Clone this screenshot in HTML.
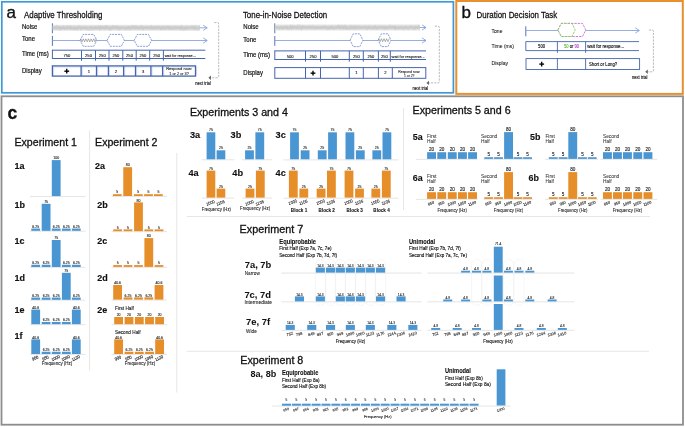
<!DOCTYPE html>
<html><head><meta charset="utf-8"><style>
html,body{margin:0;padding:0;background:#fff;width:685px;height:427px;overflow:hidden}
svg{display:block;font-family:"Liberation Sans", sans-serif;will-change:transform}
</style></head><body>
<svg xmlns="http://www.w3.org/2000/svg" width="685" height="427" viewBox="0 0 685 427" fill="#111" stroke-linecap="butt">
<rect x="1.8" y="1.8" width="451.6" height="91" fill="none" stroke="#3f97d8" stroke-width="1.7"/>
<rect x="456.3" y="1" width="226.5" height="92.9" fill="none" stroke="#e8902b" stroke-width="2"/>
<rect x="1.5" y="96.3" width="681.5" height="328.4" fill="none" stroke="#8d8d8d" stroke-width="1.8"/>
<text x="6.50" y="18.00" font-size="17.00" stroke="#111" stroke-width="0.35">a</text>
<text x="24.00" y="18.00" font-size="9.24" stroke="#111" stroke-width="0.26" textLength="78.46" lengthAdjust="spacingAndGlyphs">Adaptive Thresholding</text>
<text x="242.90" y="17.60" font-size="9.24" stroke="#111" stroke-width="0.26" textLength="84.30" lengthAdjust="spacingAndGlyphs">Tone-in-Noise Detection</text>
<text x="22.00" y="28.80" font-size="7.02" stroke="#111" stroke-width="0.20" textLength="15.34" lengthAdjust="spacingAndGlyphs">Noise</text>
<text x="22.00" y="41.00" font-size="7.02" stroke="#111" stroke-width="0.20" textLength="13.01" lengthAdjust="spacingAndGlyphs">Tone</text>
<text x="22.00" y="56.00" font-size="7.02" stroke="#111" stroke-width="0.20" textLength="26.77" lengthAdjust="spacingAndGlyphs">Time (ms)</text>
<text x="22.00" y="73.00" font-size="7.02" stroke="#111" stroke-width="0.20" textLength="19.67" lengthAdjust="spacingAndGlyphs">Display</text>
<line x1="52.40" y1="23.30" x2="52.40" y2="33.30" stroke="#4565ae" stroke-width="0.9"/>
<rect x="52.80" y="24.80" width="147.20" height="6.00" fill="#e6e6e6"/>
<rect x="52.80" y="25.90" width="147.20" height="3.80" fill="#d6d6d6"/>
<rect x="52.80" y="26.90" width="147.20" height="1.80" fill="#cdcdcd"/>
<polyline points="52.8,26.3 53.5,28.1 54.2,27.0 54.9,28.4 55.6,28.5 56.3,25.3 57.0,25.0 57.7,29.8 58.4,26.4 59.1,26.3 59.8,30.7 60.5,27.6 61.2,29.8 61.9,27.7 62.6,28.6 63.3,25.8 64.0,28.6 64.7,29.9 65.4,27.9 66.1,29.2 66.8,28.8 67.5,25.3 68.2,29.3 68.9,28.3 69.6,26.6 70.3,25.1 71.0,29.9 71.7,27.6 72.4,29.1 73.1,30.0 73.8,29.0 74.5,30.2 75.2,27.2 75.9,29.5 76.6,27.5 77.3,30.3 78.0,30.0 78.7,25.5 79.4,25.7 80.1,26.2 80.8,30.5 81.5,27.4 82.2,28.5 82.9,26.6 83.6,27.8 84.3,27.1 85.0,26.9 85.7,28.3 86.4,28.3 87.1,30.1 87.8,28.9 88.5,30.3 89.2,29.9 89.9,30.6 90.6,28.8 91.3,25.8 92.0,29.9 92.7,30.5 93.4,30.1 94.1,28.2 94.8,29.0 95.5,26.1 96.2,29.7 96.9,28.2 97.6,26.6 98.3,25.3 99.0,29.9 99.7,30.6 100.4,25.4 101.1,29.5 101.8,27.3 102.5,25.8 103.2,26.6 103.9,29.4 104.6,30.0 105.3,25.2 106.0,28.5 106.7,25.2 107.4,29.1 108.1,26.8 108.8,30.0 109.5,30.6 110.2,27.8 110.9,30.7 111.6,26.7 112.3,25.3 113.0,28.4 113.7,25.1 114.4,26.0 115.1,27.3 115.8,28.4 116.5,25.8 117.2,25.1 117.9,29.9 118.6,26.7 119.3,30.5 120.0,30.1 120.7,27.1 121.4,27.6 122.1,27.9 122.8,28.6 123.5,28.4 124.2,28.1 124.9,28.5 125.6,30.4 126.3,27.8 127.0,27.4 127.7,29.1 128.4,26.3 129.1,26.6 129.8,30.6 130.5,27.9 131.2,28.1 131.9,25.0 132.6,27.3 133.3,28.3 134.0,25.0 134.7,28.5 135.4,28.6 136.1,25.2 136.8,28.5 137.5,27.6 138.2,28.8 138.9,26.9 139.6,29.0 140.3,29.2 141.0,25.0 141.7,25.3 142.4,28.8 143.1,30.5 143.8,26.4 144.5,27.5 145.2,28.3 145.9,26.8 146.6,27.0 147.3,26.7 148.0,27.0 148.7,28.4 149.4,26.6 150.1,27.1 150.8,29.4 151.5,25.1 152.2,28.2 152.9,29.2 153.6,26.7 154.3,26.2 155.0,29.6 155.7,26.3 156.4,26.0 157.1,27.4 157.8,28.9 158.5,25.5 159.2,26.8 159.9,26.8 160.6,29.7 161.3,27.4 162.0,29.9 162.7,25.9 163.4,26.9 164.1,28.7 164.8,30.0 165.5,27.5 166.2,26.2 166.9,25.6 167.6,28.0 168.3,26.0 169.0,29.6 169.7,29.8 170.4,26.0 171.1,26.5 171.8,29.6 172.5,28.6 173.2,29.6 173.9,26.9 174.6,25.7 175.3,26.6 176.0,29.5 176.7,26.5 177.4,26.9 178.1,27.3 178.8,27.3 179.5,27.3 180.2,30.2 180.9,25.8 181.6,24.9 182.3,30.4 183.0,30.0 183.7,30.6 184.4,27.4 185.1,30.4 185.8,30.3 186.5,26.2 187.2,29.2 187.9,29.8 188.6,28.7 189.3,27.9 190.0,26.6 190.7,26.9 191.4,26.2 192.1,25.3 192.8,28.3 193.5,26.6 194.2,29.6 194.9,25.2 195.6,30.1 196.3,28.9 197.0,30.3 197.7,30.1 198.4,30.1 199.1,28.2 199.8,25.0" fill="none" stroke="#c6c6c6" stroke-width="0.4"/>
<line x1="200.00" y1="27.80" x2="207.20" y2="27.80" stroke="#7b9ad8" stroke-width="0.8"/>
<polyline points="203.2,25.2 207.2,27.8 203.2,30.400000000000002" fill="none" stroke="#7b9ad8" stroke-width="0.8"/>
<line x1="52.40" y1="35.90" x2="52.40" y2="45.90" stroke="#4565ae" stroke-width="0.9"/>
<line x1="52.40" y1="40.50" x2="207.20" y2="40.50" stroke="#7b9ad8" stroke-width="0.8"/>
<polyline points="203.2,37.9 207.2,40.5 203.2,43.1" fill="none" stroke="#7b9ad8" stroke-width="0.8"/>
<polygon points="80.1,40.349999999999994 83.19999999999999,34.4 93.7,34.4 96.8,40.349999999999994 93.7,46.3 83.19999999999999,46.3" fill="white" stroke="#6680c4" stroke-width="0.75" stroke-dasharray="2,0.9"/>
<polyline points="80.7,38.8 82.0,41.8 83.3,38.8 84.6,41.8 85.9,38.8 87.2,41.8 88.5,38.8 89.8,41.8 91.1,38.8 92.4,41.8 93.7,38.8 95.0,41.8 96.3,38.8" fill="none" stroke="#666" stroke-width="0.5"/>
<polygon points="107.1,40.349999999999994 110.19999999999999,34.4 121.30000000000001,34.4 124.4,40.349999999999994 121.30000000000001,46.3 110.19999999999999,46.3" fill="white" stroke="#6680c4" stroke-width="0.75" stroke-dasharray="2,0.9"/>
<polygon points="134.2,40.349999999999994 137.29999999999998,34.4 148.5,34.4 151.6,40.349999999999994 148.5,46.3 137.29999999999998,46.3" fill="white" stroke="#6680c4" stroke-width="0.75" stroke-dasharray="2,0.9"/>
<line x1="52.40" y1="50.20" x2="205.30" y2="50.20" stroke="#4565ae" stroke-width="1.0"/>
<line x1="52.40" y1="58.50" x2="205.30" y2="58.50" stroke="#4565ae" stroke-width="1.0"/>
<line x1="52.40" y1="49.70" x2="52.40" y2="59.00" stroke="#4565ae" stroke-width="1.0"/>
<line x1="81.50" y1="50.20" x2="81.50" y2="60.70" stroke="#4565ae" stroke-width="1.0"/>
<line x1="95.50" y1="50.20" x2="95.50" y2="60.70" stroke="#4565ae" stroke-width="1.0"/>
<line x1="109.00" y1="50.20" x2="109.00" y2="60.70" stroke="#4565ae" stroke-width="1.0"/>
<line x1="122.80" y1="50.20" x2="122.80" y2="60.70" stroke="#4565ae" stroke-width="1.0"/>
<line x1="136.20" y1="50.20" x2="136.20" y2="60.70" stroke="#4565ae" stroke-width="1.0"/>
<line x1="149.70" y1="50.20" x2="149.70" y2="60.70" stroke="#4565ae" stroke-width="1.0"/>
<line x1="163.40" y1="50.20" x2="163.40" y2="60.70" stroke="#4565ae" stroke-width="1.0"/>
<text x="66.95" y="56.90" font-size="4.22" text-anchor="middle" stroke="#111" stroke-width="0.10" textLength="6.84" lengthAdjust="spacingAndGlyphs">750</text>
<text x="88.50" y="56.90" font-size="4.22" text-anchor="middle" stroke="#111" stroke-width="0.10" textLength="6.84" lengthAdjust="spacingAndGlyphs">250</text>
<text x="102.25" y="56.90" font-size="4.22" text-anchor="middle" stroke="#111" stroke-width="0.10" textLength="6.84" lengthAdjust="spacingAndGlyphs">250</text>
<text x="115.90" y="56.90" font-size="4.22" text-anchor="middle" stroke="#111" stroke-width="0.10" textLength="6.84" lengthAdjust="spacingAndGlyphs">250</text>
<text x="129.50" y="56.90" font-size="4.22" text-anchor="middle" stroke="#111" stroke-width="0.10" textLength="6.84" lengthAdjust="spacingAndGlyphs">250</text>
<text x="142.95" y="56.90" font-size="4.22" text-anchor="middle" stroke="#111" stroke-width="0.10" textLength="6.84" lengthAdjust="spacingAndGlyphs">250</text>
<text x="156.55" y="56.90" font-size="4.22" text-anchor="middle" stroke="#111" stroke-width="0.10" textLength="6.84" lengthAdjust="spacingAndGlyphs">250</text>
<text x="164.70" y="56.50" font-size="4.22" stroke="#111" stroke-width="0.10" textLength="31.00" lengthAdjust="spacingAndGlyphs">wait for response...</text>
<line x1="53.60" y1="66.40" x2="53.60" y2="75.60" stroke="#d5ddf0" stroke-width="0.9"/>
<line x1="82.30" y1="66.40" x2="82.30" y2="75.60" stroke="#d5ddf0" stroke-width="0.9"/>
<line x1="97.70" y1="66.40" x2="97.70" y2="75.60" stroke="#d5ddf0" stroke-width="0.9"/>
<line x1="109.60" y1="66.40" x2="109.60" y2="75.60" stroke="#d5ddf0" stroke-width="0.9"/>
<line x1="124.80" y1="66.40" x2="124.80" y2="75.60" stroke="#d5ddf0" stroke-width="0.9"/>
<line x1="136.70" y1="66.40" x2="136.70" y2="75.60" stroke="#d5ddf0" stroke-width="0.9"/>
<line x1="152.10" y1="66.40" x2="152.10" y2="75.60" stroke="#d5ddf0" stroke-width="0.9"/>
<line x1="163.80" y1="66.40" x2="163.80" y2="75.60" stroke="#d5ddf0" stroke-width="0.9"/>
<line x1="196.70" y1="66.40" x2="196.70" y2="75.60" stroke="#d5ddf0" stroke-width="0.9"/>
<line x1="52.40" y1="67.10" x2="195.50" y2="67.10" stroke="#d5ddf0" stroke-width="0.9"/>
<rect x="52.4" y="65.9" width="143.1" height="10.199999999999989" fill="none" stroke="#4565ae" stroke-width="1.3"/>
<line x1="81.10" y1="65.90" x2="81.10" y2="76.10" stroke="#4565ae" stroke-width="1.3"/>
<line x1="96.50" y1="65.90" x2="96.50" y2="76.10" stroke="#4565ae" stroke-width="1.3"/>
<line x1="108.40" y1="65.90" x2="108.40" y2="76.10" stroke="#4565ae" stroke-width="1.3"/>
<line x1="123.60" y1="65.90" x2="123.60" y2="76.10" stroke="#4565ae" stroke-width="1.3"/>
<line x1="135.50" y1="65.90" x2="135.50" y2="76.10" stroke="#4565ae" stroke-width="1.3"/>
<line x1="150.90" y1="65.90" x2="150.90" y2="76.10" stroke="#4565ae" stroke-width="1.3"/>
<line x1="162.60" y1="65.90" x2="162.60" y2="76.10" stroke="#4565ae" stroke-width="1.3"/>
<line x1="64.35" y1="71.20" x2="69.15" y2="71.20" stroke="#000" stroke-width="1.35"/>
<line x1="66.75" y1="68.80" x2="66.75" y2="73.60" stroke="#000" stroke-width="1.35"/>
<text x="88.80" y="72.50" font-size="4.20" text-anchor="middle" stroke="#111" stroke-width="0.10" textLength="2.34" lengthAdjust="spacingAndGlyphs">1</text>
<text x="116.00" y="72.50" font-size="4.20" text-anchor="middle" stroke="#111" stroke-width="0.10" textLength="2.34" lengthAdjust="spacingAndGlyphs">2</text>
<text x="143.20" y="72.50" font-size="4.20" text-anchor="middle" stroke="#111" stroke-width="0.10" textLength="2.34" lengthAdjust="spacingAndGlyphs">3</text>
<text x="179.10" y="69.95" font-size="4.12" text-anchor="middle" stroke="#111" stroke-width="0.08" textLength="25.80" lengthAdjust="spacingAndGlyphs">Respond now:</text>
<text x="179.10" y="74.95" font-size="4.12" text-anchor="middle" stroke="#111" stroke-width="0.08" textLength="19.60" lengthAdjust="spacingAndGlyphs">1 or 2 or 3?</text>
<path d="M214.2,22.6 L217.5,22.6 Q218.7,22.6 218.7,23.8 L218.7,76.6 Q218.7,77.8 217.5,77.8 L210.5,77.8" fill="none" stroke="#959595" stroke-width="0.65" stroke-dasharray="2.2,1.1"/>
<polygon points="208.4,77.8 211.0,75.6 211.0,80.0" fill="#666"/>
<text x="195.30" y="84.80" font-size="4.51" stroke="#111" stroke-width="0.13" textLength="15.49" lengthAdjust="spacingAndGlyphs">next trial</text>
<text x="243.30" y="28.50" font-size="7.02" stroke="#111" stroke-width="0.20" textLength="15.34" lengthAdjust="spacingAndGlyphs">Noise</text>
<text x="243.30" y="41.70" font-size="7.02" stroke="#111" stroke-width="0.20" textLength="13.01" lengthAdjust="spacingAndGlyphs">Tone</text>
<text x="243.30" y="56.60" font-size="7.02" stroke="#111" stroke-width="0.20" textLength="26.77" lengthAdjust="spacingAndGlyphs">Time (ms)</text>
<text x="243.30" y="74.60" font-size="7.02" stroke="#111" stroke-width="0.20" textLength="19.67" lengthAdjust="spacingAndGlyphs">Display</text>
<line x1="274.80" y1="23.30" x2="274.80" y2="33.30" stroke="#4565ae" stroke-width="0.9"/>
<rect x="275.20" y="24.50" width="144.80" height="6.00" fill="#e6e6e6"/>
<rect x="275.20" y="25.60" width="144.80" height="3.80" fill="#d6d6d6"/>
<rect x="275.20" y="26.60" width="144.80" height="1.80" fill="#cdcdcd"/>
<polyline points="275.2,28.9 275.9,25.6 276.6,26.3 277.3,28.4 278.0,27.6 278.7,27.0 279.4,30.0 280.1,28.2 280.8,26.6 281.5,26.1 282.2,29.6 282.9,27.4 283.6,29.1 284.3,26.6 285.0,25.7 285.7,27.7 286.4,29.3 287.1,25.6 287.8,29.2 288.5,29.9 289.2,29.3 289.9,29.4 290.6,24.6 291.3,28.2 292.0,29.6 292.7,24.9 293.4,26.2 294.1,26.2 294.8,27.7 295.5,27.1 296.2,27.3 296.9,29.1 297.6,24.6 298.3,24.9 299.0,25.3 299.7,25.3 300.4,25.0 301.1,30.3 301.8,29.6 302.5,25.1 303.2,27.5 303.9,26.4 304.6,26.4 305.3,26.6 306.0,28.4 306.7,28.0 307.4,26.7 308.1,25.7 308.8,26.5 309.5,25.3 310.2,27.8 310.9,28.8 311.6,26.8 312.3,25.1 313.0,25.6 313.7,26.8 314.4,28.1 315.1,29.1 315.8,26.8 316.5,29.2 317.2,28.2 317.9,27.1 318.6,26.8 319.3,27.5 320.0,28.7 320.7,27.0 321.4,28.6 322.1,27.3 322.8,26.0 323.5,27.7 324.2,28.6 324.9,25.0 325.6,27.1 326.3,27.1 327.0,29.7 327.7,30.0 328.4,26.8 329.1,29.8 329.8,29.2 330.5,26.1 331.2,27.3 331.9,25.3 332.6,29.3 333.3,28.4 334.0,29.7 334.7,29.2 335.4,28.5 336.1,28.9 336.8,27.9 337.5,25.2 338.2,28.0 338.9,24.6 339.6,25.4 340.3,29.1 341.0,24.9 341.7,25.1 342.4,25.2 343.1,29.7 343.8,25.6 344.5,24.7 345.2,29.5 345.9,25.3 346.6,29.5 347.3,28.5 348.0,29.4 348.7,30.1 349.4,28.0 350.1,29.2 350.8,24.8 351.5,29.1 352.2,27.6 352.9,28.7 353.6,25.2 354.3,28.9 355.0,30.0 355.7,25.0 356.4,26.5 357.1,27.9 357.8,29.4 358.5,26.0 359.2,25.6 359.9,26.0 360.6,28.2 361.3,29.0 362.0,26.9 362.7,26.7 363.4,26.9 364.1,26.6 364.8,27.0 365.5,25.1 366.2,27.5 366.9,30.2 367.6,27.0 368.3,28.9 369.0,25.5 369.7,28.6 370.4,29.0 371.1,28.5 371.8,27.6 372.5,27.4 373.2,28.3 373.9,29.8 374.6,25.5 375.3,25.2 376.0,28.9 376.7,29.9 377.4,27.6 378.1,27.2 378.8,28.8 379.5,25.7 380.2,26.2 380.9,25.8 381.6,28.0 382.3,26.4 383.0,25.9 383.7,28.6 384.4,30.1 385.1,26.3 385.8,28.7 386.5,27.0 387.2,29.6 387.9,28.0 388.6,26.1 389.3,25.9 390.0,24.7 390.7,27.4 391.4,26.8 392.1,25.6 392.8,26.7 393.5,26.5 394.2,29.1 394.9,25.4 395.6,30.3 396.3,27.4 397.0,28.1 397.7,27.3 398.4,29.4 399.1,29.4 399.8,27.8 400.5,27.4 401.2,28.8 401.9,29.6 402.6,26.9 403.3,28.9 404.0,30.2 404.7,27.3 405.4,25.9 406.1,26.0 406.8,28.8 407.5,28.5 408.2,30.2 408.9,29.6 409.6,26.0 410.3,25.7 411.0,26.1 411.7,25.7 412.4,28.7 413.1,29.6 413.8,29.8 414.5,26.1 415.2,29.6 415.9,26.4 416.6,27.1 417.3,28.8 418.0,25.1 418.7,25.1 419.4,29.4" fill="none" stroke="#c6c6c6" stroke-width="0.4"/>
<line x1="420.00" y1="27.50" x2="426.00" y2="27.50" stroke="#7b9ad8" stroke-width="0.8"/>
<polyline points="422,24.9 426,27.5 422,30.1" fill="none" stroke="#7b9ad8" stroke-width="0.8"/>
<line x1="274.80" y1="36.00" x2="274.80" y2="45.90" stroke="#4565ae" stroke-width="0.9"/>
<line x1="274.80" y1="40.50" x2="426.00" y2="40.50" stroke="#7b9ad8" stroke-width="0.8"/>
<polyline points="422,37.9 426,40.5 422,43.1" fill="none" stroke="#7b9ad8" stroke-width="0.8"/>
<polygon points="350.1,40.2 353.20000000000005,33.8 359.79999999999995,33.8 362.9,40.2 359.79999999999995,46.6 353.20000000000005,46.6" fill="white" stroke="#6680c4" stroke-width="0.75" stroke-dasharray="2,0.9"/>
<polygon points="378.2,40.2 381.3,33.8 387.9,33.8 391,40.2 387.9,46.6 381.3,46.6" fill="white" stroke="#6680c4" stroke-width="0.75" stroke-dasharray="2,0.9"/>
<polyline points="378.8,38.7 380.1,41.7 381.4,38.7 382.7,41.7 384.0,38.7 385.3,41.7 386.6,38.7 387.9,41.7 389.2,38.7" fill="none" stroke="#666" stroke-width="0.5"/>
<line x1="274.80" y1="50.90" x2="426.00" y2="50.90" stroke="#4565ae" stroke-width="1.0"/>
<line x1="274.80" y1="59.50" x2="426.00" y2="59.50" stroke="#4565ae" stroke-width="1.0"/>
<line x1="274.80" y1="50.40" x2="274.80" y2="60.00" stroke="#4565ae" stroke-width="1.0"/>
<line x1="305.50" y1="50.90" x2="305.50" y2="61.70" stroke="#4565ae" stroke-width="1.0"/>
<line x1="320.50" y1="50.90" x2="320.50" y2="61.70" stroke="#4565ae" stroke-width="1.0"/>
<line x1="349.30" y1="50.90" x2="349.30" y2="61.70" stroke="#4565ae" stroke-width="1.0"/>
<line x1="363.30" y1="50.90" x2="363.30" y2="61.70" stroke="#4565ae" stroke-width="1.0"/>
<line x1="378.40" y1="50.90" x2="378.40" y2="61.70" stroke="#4565ae" stroke-width="1.0"/>
<line x1="390.30" y1="50.90" x2="390.30" y2="61.70" stroke="#4565ae" stroke-width="1.0"/>
<text x="290.15" y="57.90" font-size="4.22" text-anchor="middle" stroke="#111" stroke-width="0.10" textLength="6.84" lengthAdjust="spacingAndGlyphs">500</text>
<text x="313.00" y="57.90" font-size="4.22" text-anchor="middle" stroke="#111" stroke-width="0.10" textLength="6.84" lengthAdjust="spacingAndGlyphs">250</text>
<text x="334.90" y="57.90" font-size="4.22" text-anchor="middle" stroke="#111" stroke-width="0.10" textLength="6.84" lengthAdjust="spacingAndGlyphs">500</text>
<text x="356.30" y="57.90" font-size="4.22" text-anchor="middle" stroke="#111" stroke-width="0.10" textLength="6.84" lengthAdjust="spacingAndGlyphs">250</text>
<text x="370.85" y="57.90" font-size="4.22" text-anchor="middle" stroke="#111" stroke-width="0.10" textLength="6.84" lengthAdjust="spacingAndGlyphs">250</text>
<text x="384.35" y="57.90" font-size="4.22" text-anchor="middle" stroke="#111" stroke-width="0.10" textLength="6.84" lengthAdjust="spacingAndGlyphs">250</text>
<text x="391.60" y="57.50" font-size="4.22" stroke="#111" stroke-width="0.10" textLength="33.00" lengthAdjust="spacingAndGlyphs">wait for response...</text>
<rect x="274.8" y="67.6" width="151.0" height="10.700000000000003" fill="none" stroke="#4565ae" stroke-width="1.0"/>
<line x1="305.50" y1="67.60" x2="305.50" y2="78.30" stroke="#4565ae" stroke-width="1.0"/>
<line x1="320.50" y1="67.60" x2="320.50" y2="78.30" stroke="#4565ae" stroke-width="1.0"/>
<line x1="349.30" y1="67.60" x2="349.30" y2="78.30" stroke="#4565ae" stroke-width="1.0"/>
<line x1="363.30" y1="67.60" x2="363.30" y2="78.30" stroke="#4565ae" stroke-width="1.0"/>
<line x1="378.40" y1="67.60" x2="378.40" y2="78.30" stroke="#4565ae" stroke-width="1.0"/>
<line x1="392.30" y1="67.60" x2="392.30" y2="78.30" stroke="#4565ae" stroke-width="1.0"/>
<line x1="310.60" y1="73.15" x2="315.40" y2="73.15" stroke="#000" stroke-width="1.35"/>
<line x1="313.00" y1="70.75" x2="313.00" y2="75.55" stroke="#000" stroke-width="1.35"/>
<text x="356.30" y="74.45" font-size="4.20" text-anchor="middle" stroke="#111" stroke-width="0.10" textLength="2.34" lengthAdjust="spacingAndGlyphs">1</text>
<text x="385.35" y="74.45" font-size="4.20" text-anchor="middle" stroke="#111" stroke-width="0.10" textLength="2.34" lengthAdjust="spacingAndGlyphs">2</text>
<text x="409.20" y="72.75" font-size="4.12" text-anchor="middle" stroke="#111" stroke-width="0.08" textLength="21.90" lengthAdjust="spacingAndGlyphs">Respond now:</text>
<text x="409.20" y="76.75" font-size="4.12" text-anchor="middle" stroke="#111" stroke-width="0.08" textLength="10.50" lengthAdjust="spacingAndGlyphs">1 or 2?</text>
<path d="M434.8,26.2 L438.1,26.2 Q439.3,26.2 439.3,27.4 L439.3,81.7 Q439.3,82.9 438.1,82.9 L428.5,82.9" fill="none" stroke="#959595" stroke-width="0.65" stroke-dasharray="2.2,1.1"/>
<polygon points="426.4,82.9 429.0,80.7 429.0,85.10000000000001" fill="#666"/>
<text x="412.60" y="90.00" font-size="4.51" stroke="#111" stroke-width="0.13" textLength="15.49" lengthAdjust="spacingAndGlyphs">next trial</text>
<text x="461.50" y="18.30" font-size="17.00" stroke="#111" stroke-width="0.35">b</text>
<text x="476.60" y="18.00" font-size="9.24" stroke="#111" stroke-width="0.26" textLength="80.64" lengthAdjust="spacingAndGlyphs">Duration Decision Task</text>
<text x="491.50" y="33.00" font-size="5.91" stroke="#111" stroke-width="0.06" textLength="10.95" lengthAdjust="spacingAndGlyphs">Tone</text>
<text x="491.50" y="48.10" font-size="5.91" stroke="#111" stroke-width="0.06" textLength="22.53" lengthAdjust="spacingAndGlyphs">Time (ms)</text>
<text x="491.50" y="65.00" font-size="5.91" stroke="#111" stroke-width="0.06" textLength="16.56" lengthAdjust="spacingAndGlyphs">Display</text>
<line x1="525.80" y1="26.30" x2="525.80" y2="36.30" stroke="#4565ae" stroke-width="0.9"/>
<line x1="525.80" y1="30.50" x2="639.30" y2="30.50" stroke="#7b9ad8" stroke-width="0.8"/>
<polyline points="635.3,27.9 639.3,30.5 635.3,33.1" fill="none" stroke="#7b9ad8" stroke-width="0.8"/>
<polygon points="558,29.95 561.3,23.4 582.5,23.4 585.8,29.95 582.5,36.5 561.3,36.5" fill="white" stroke="#c45ad8" stroke-width="0.8" stroke-dasharray="2.4,1"/>
<polygon points="558,29.95 561.3,23.4 571.9000000000001,23.4 575.2,29.95 571.9000000000001,36.5 561.3,36.5" fill="white" stroke="#74c04e" stroke-width="0.8" stroke-dasharray="2.4,1"/>
<line x1="525.80" y1="41.60" x2="639.00" y2="41.60" stroke="#4565ae" stroke-width="0.9"/>
<line x1="525.80" y1="50.60" x2="639.00" y2="50.60" stroke="#4565ae" stroke-width="0.9"/>
<line x1="525.80" y1="41.60" x2="525.80" y2="50.60" stroke="#4565ae" stroke-width="0.9"/>
<line x1="557.40" y1="41.60" x2="557.40" y2="52.80" stroke="#4565ae" stroke-width="0.9"/>
<line x1="585.60" y1="41.60" x2="585.60" y2="52.80" stroke="#4565ae" stroke-width="0.9"/>
<text x="541.60" y="47.70" font-size="4.73" text-anchor="middle" stroke="#111" stroke-width="0.13" textLength="7.17" lengthAdjust="spacingAndGlyphs">500</text>
<text x="571.5" y="47.7" font-size="4.7" text-anchor="middle" stroke="#111" stroke-width="0.12" textLength="15" lengthAdjust="spacingAndGlyphs"><tspan fill="#5cb830" stroke="#5cb830">50</tspan> or <tspan fill="#b03ad0" stroke="#b03ad0">90</tspan></text>
<text x="587.20" y="47.70" font-size="4.79" stroke="#111" stroke-width="0.13" textLength="37.00" lengthAdjust="spacingAndGlyphs">wait for response...</text>
<rect x="526" y="58.6" width="113.6" height="10.9" fill="none" stroke="#4565ae" stroke-width="0.9"/>
<line x1="557.40" y1="58.60" x2="557.40" y2="69.50" stroke="#4565ae" stroke-width="0.9"/>
<line x1="585.60" y1="58.60" x2="585.60" y2="69.50" stroke="#4565ae" stroke-width="0.9"/>
<line x1="539.30" y1="64.10" x2="544.10" y2="64.10" stroke="#000" stroke-width="1.35"/>
<line x1="541.70" y1="61.70" x2="541.70" y2="66.50" stroke="#000" stroke-width="1.35"/>
<text x="589.00" y="65.60" font-size="4.68" stroke="#111" stroke-width="0.13" textLength="28.11" lengthAdjust="spacingAndGlyphs">Short or Long?</text>
<path d="M648.9,30.0 L652.1999999999999,30.0 Q653.4,30.0 653.4,31.2 L653.4,70.6 Q653.4,71.8 652.1999999999999,71.8 L647.3,71.8" fill="none" stroke="#959595" stroke-width="0.65" stroke-dasharray="2.2,1.1"/>
<polygon points="645.1999999999999,71.8 647.8,69.6 647.8,74.0" fill="#666"/>
<text x="632.00" y="78.70" font-size="4.51" stroke="#111" stroke-width="0.13" textLength="15.49" lengthAdjust="spacingAndGlyphs">next trial</text>
<text x="7.60" y="119.30" font-size="17.50" font-weight="bold" stroke="#111" stroke-width="0.30">c</text>
<line x1="89.60" y1="130.50" x2="89.60" y2="370.70" stroke="#e6e6e6" stroke-width="1"/>
<line x1="176.80" y1="152.80" x2="176.80" y2="392.60" stroke="#e6e6e6" stroke-width="1"/>
<line x1="403.50" y1="108.30" x2="403.50" y2="210.00" stroke="#e6e6e6" stroke-width="1"/>
<line x1="186.80" y1="216.50" x2="650.00" y2="216.50" stroke="#e6e6e6" stroke-width="1"/>
<line x1="186.80" y1="351.30" x2="649.00" y2="351.30" stroke="#e6e6e6" stroke-width="1"/>
<text x="14.50" y="146.20" font-size="10.60" stroke="#111" stroke-width="0.30">Experiment 1</text>
<text x="14.50" y="169.00" font-size="9.54" font-weight="bold" stroke="#111" stroke-width="0.15" textLength="10.01" lengthAdjust="spacingAndGlyphs">1a</text>
<line x1="30.00" y1="196.55" x2="85.50" y2="196.55" stroke="#e2e2e2" stroke-width="0.9"/>
<rect x="51.80" y="160.10" width="8.80" height="36.00" fill="#4a96d3"/>
<text x="56.20" y="159.25" font-size="3.78" text-anchor="middle" fill="#222" stroke="#222" stroke-width="0.11" textLength="5.84" lengthAdjust="spacingAndGlyphs">100</text>
<text x="14.50" y="208.00" font-size="9.54" font-weight="bold" stroke="#111" stroke-width="0.15" textLength="10.50" lengthAdjust="spacingAndGlyphs">1b</text>
<line x1="30.00" y1="231.25" x2="85.50" y2="231.25" stroke="#e2e2e2" stroke-width="0.9"/>
<rect x="31.30" y="228.55" width="8.80" height="2.25" fill="#4a96d3"/>
<text x="35.70" y="227.70" font-size="3.78" text-anchor="middle" fill="#222" stroke="#222" stroke-width="0.11" textLength="6.81" lengthAdjust="spacingAndGlyphs">6.25</text>
<rect x="41.70" y="203.80" width="8.80" height="27.00" fill="#4a96d3"/>
<text x="46.10" y="202.95" font-size="3.78" text-anchor="middle" fill="#222" stroke="#222" stroke-width="0.11" textLength="3.89" lengthAdjust="spacingAndGlyphs">75</text>
<rect x="51.80" y="228.55" width="8.80" height="2.25" fill="#4a96d3"/>
<text x="56.20" y="227.70" font-size="3.78" text-anchor="middle" fill="#222" stroke="#222" stroke-width="0.11" textLength="6.81" lengthAdjust="spacingAndGlyphs">6.25</text>
<rect x="61.90" y="228.55" width="8.80" height="2.25" fill="#4a96d3"/>
<text x="66.30" y="227.70" font-size="3.78" text-anchor="middle" fill="#222" stroke="#222" stroke-width="0.11" textLength="6.81" lengthAdjust="spacingAndGlyphs">6.25</text>
<rect x="71.90" y="228.55" width="8.80" height="2.25" fill="#4a96d3"/>
<text x="76.30" y="227.70" font-size="3.78" text-anchor="middle" fill="#222" stroke="#222" stroke-width="0.11" textLength="6.81" lengthAdjust="spacingAndGlyphs">6.25</text>
<text x="14.50" y="244.30" font-size="9.54" font-weight="bold" stroke="#111" stroke-width="0.15" textLength="10.01" lengthAdjust="spacingAndGlyphs">1c</text>
<line x1="30.00" y1="267.45" x2="85.50" y2="267.45" stroke="#e2e2e2" stroke-width="0.9"/>
<rect x="31.30" y="264.75" width="8.80" height="2.25" fill="#4a96d3"/>
<text x="35.70" y="263.90" font-size="3.78" text-anchor="middle" fill="#222" stroke="#222" stroke-width="0.11" textLength="6.81" lengthAdjust="spacingAndGlyphs">6.25</text>
<rect x="41.70" y="264.75" width="8.80" height="2.25" fill="#4a96d3"/>
<text x="46.10" y="263.90" font-size="3.78" text-anchor="middle" fill="#222" stroke="#222" stroke-width="0.11" textLength="6.81" lengthAdjust="spacingAndGlyphs">6.25</text>
<rect x="51.80" y="240.00" width="8.80" height="27.00" fill="#4a96d3"/>
<text x="56.20" y="239.15" font-size="3.78" text-anchor="middle" fill="#222" stroke="#222" stroke-width="0.11" textLength="3.89" lengthAdjust="spacingAndGlyphs">75</text>
<rect x="61.90" y="264.75" width="8.80" height="2.25" fill="#4a96d3"/>
<text x="66.30" y="263.90" font-size="3.78" text-anchor="middle" fill="#222" stroke="#222" stroke-width="0.11" textLength="6.81" lengthAdjust="spacingAndGlyphs">6.25</text>
<rect x="71.90" y="264.75" width="8.80" height="2.25" fill="#4a96d3"/>
<text x="76.30" y="263.90" font-size="3.78" text-anchor="middle" fill="#222" stroke="#222" stroke-width="0.11" textLength="6.81" lengthAdjust="spacingAndGlyphs">6.25</text>
<text x="14.50" y="280.60" font-size="9.54" font-weight="bold" stroke="#111" stroke-width="0.15" textLength="10.50" lengthAdjust="spacingAndGlyphs">1d</text>
<line x1="30.00" y1="300.25" x2="85.50" y2="300.25" stroke="#e2e2e2" stroke-width="0.9"/>
<rect x="31.30" y="297.55" width="8.80" height="2.25" fill="#4a96d3"/>
<text x="35.70" y="296.70" font-size="3.78" text-anchor="middle" fill="#222" stroke="#222" stroke-width="0.11" textLength="6.81" lengthAdjust="spacingAndGlyphs">6.25</text>
<rect x="41.70" y="297.55" width="8.80" height="2.25" fill="#4a96d3"/>
<text x="46.10" y="296.70" font-size="3.78" text-anchor="middle" fill="#222" stroke="#222" stroke-width="0.11" textLength="6.81" lengthAdjust="spacingAndGlyphs">6.25</text>
<rect x="51.80" y="297.55" width="8.80" height="2.25" fill="#4a96d3"/>
<text x="56.20" y="296.70" font-size="3.78" text-anchor="middle" fill="#222" stroke="#222" stroke-width="0.11" textLength="6.81" lengthAdjust="spacingAndGlyphs">6.25</text>
<rect x="61.90" y="272.80" width="8.80" height="27.00" fill="#4a96d3"/>
<text x="66.30" y="271.95" font-size="3.78" text-anchor="middle" fill="#222" stroke="#222" stroke-width="0.11" textLength="3.89" lengthAdjust="spacingAndGlyphs">75</text>
<rect x="71.90" y="297.55" width="8.80" height="2.25" fill="#4a96d3"/>
<text x="76.30" y="296.70" font-size="3.78" text-anchor="middle" fill="#222" stroke="#222" stroke-width="0.11" textLength="6.81" lengthAdjust="spacingAndGlyphs">6.25</text>
<text x="14.50" y="313.30" font-size="9.54" font-weight="bold" stroke="#111" stroke-width="0.15" textLength="10.01" lengthAdjust="spacingAndGlyphs">1e</text>
<line x1="30.00" y1="324.65" x2="85.50" y2="324.65" stroke="#e2e2e2" stroke-width="0.9"/>
<rect x="31.30" y="309.58" width="8.80" height="14.62" fill="#4a96d3"/>
<text x="35.70" y="308.73" font-size="3.78" text-anchor="middle" fill="#222" stroke="#222" stroke-width="0.11" textLength="6.81" lengthAdjust="spacingAndGlyphs">40.6</text>
<rect x="41.70" y="321.95" width="8.80" height="2.25" fill="#4a96d3"/>
<text x="46.10" y="321.10" font-size="3.78" text-anchor="middle" fill="#222" stroke="#222" stroke-width="0.11" textLength="6.81" lengthAdjust="spacingAndGlyphs">6.25</text>
<rect x="51.80" y="321.95" width="8.80" height="2.25" fill="#4a96d3"/>
<text x="56.20" y="321.10" font-size="3.78" text-anchor="middle" fill="#222" stroke="#222" stroke-width="0.11" textLength="6.81" lengthAdjust="spacingAndGlyphs">6.25</text>
<rect x="61.90" y="321.95" width="8.80" height="2.25" fill="#4a96d3"/>
<text x="66.30" y="321.10" font-size="3.78" text-anchor="middle" fill="#222" stroke="#222" stroke-width="0.11" textLength="6.81" lengthAdjust="spacingAndGlyphs">6.25</text>
<rect x="71.90" y="309.58" width="8.80" height="14.62" fill="#4a96d3"/>
<text x="76.30" y="308.73" font-size="3.78" text-anchor="middle" fill="#222" stroke="#222" stroke-width="0.11" textLength="6.81" lengthAdjust="spacingAndGlyphs">40.6</text>
<text x="14.50" y="338.60" font-size="9.54" font-weight="bold" stroke="#111" stroke-width="0.15" textLength="8.00" lengthAdjust="spacingAndGlyphs">1f</text>
<line x1="30.00" y1="354.45" x2="85.50" y2="354.45" stroke="#e2e2e2" stroke-width="0.9"/>
<rect x="31.30" y="339.38" width="8.80" height="14.62" fill="#4a96d3"/>
<text x="35.70" y="338.53" font-size="3.78" text-anchor="middle" fill="#222" stroke="#222" stroke-width="0.11" textLength="6.81" lengthAdjust="spacingAndGlyphs">40.6</text>
<rect x="41.70" y="351.75" width="8.80" height="2.25" fill="#4a96d3"/>
<text x="46.10" y="350.90" font-size="3.78" text-anchor="middle" fill="#222" stroke="#222" stroke-width="0.11" textLength="6.81" lengthAdjust="spacingAndGlyphs">6.25</text>
<rect x="51.80" y="351.75" width="8.80" height="2.25" fill="#4a96d3"/>
<text x="56.20" y="350.90" font-size="3.78" text-anchor="middle" fill="#222" stroke="#222" stroke-width="0.11" textLength="6.81" lengthAdjust="spacingAndGlyphs">6.25</text>
<rect x="61.90" y="351.75" width="8.80" height="2.25" fill="#4a96d3"/>
<text x="66.30" y="350.90" font-size="3.78" text-anchor="middle" fill="#222" stroke="#222" stroke-width="0.11" textLength="6.81" lengthAdjust="spacingAndGlyphs">6.25</text>
<rect x="71.90" y="339.38" width="8.80" height="14.62" fill="#4a96d3"/>
<text x="76.30" y="338.53" font-size="3.78" text-anchor="middle" fill="#222" stroke="#222" stroke-width="0.11" textLength="6.81" lengthAdjust="spacingAndGlyphs">40.6</text>
<text x="35.70" y="359.40" font-size="4.20" text-anchor="middle" fill="#222" stroke="#222" stroke-width="0.12" textLength="6.67" lengthAdjust="spacingAndGlyphs" transform="rotate(-25 35.70 359.40)">900</text>
<text x="46.10" y="359.40" font-size="4.20" text-anchor="middle" fill="#222" stroke="#222" stroke-width="0.12" textLength="6.67" lengthAdjust="spacingAndGlyphs" transform="rotate(-25 46.10 359.40)">950</text>
<text x="56.20" y="359.40" font-size="4.20" text-anchor="middle" fill="#222" stroke="#222" stroke-width="0.12" textLength="8.90" lengthAdjust="spacingAndGlyphs" transform="rotate(-25 56.20 359.40)">1000</text>
<text x="66.30" y="359.40" font-size="4.20" text-anchor="middle" fill="#222" stroke="#222" stroke-width="0.12" textLength="8.90" lengthAdjust="spacingAndGlyphs" transform="rotate(-25 66.30 359.40)">1060</text>
<text x="76.30" y="359.40" font-size="4.20" text-anchor="middle" fill="#222" stroke="#222" stroke-width="0.12" textLength="8.60" lengthAdjust="spacingAndGlyphs" transform="rotate(-25 76.30 359.40)">1120</text>
<text x="57.00" y="365.40" font-size="4.84" text-anchor="middle" fill="#222" stroke="#222" stroke-width="0.10" textLength="30.32" lengthAdjust="spacingAndGlyphs">Frequency (Hz)</text>
<text x="95.10" y="146.20" font-size="10.60" stroke="#111" stroke-width="0.30">Experiment 2</text>
<text x="95.00" y="169.00" font-size="9.54" font-weight="bold" stroke="#111" stroke-width="0.15" textLength="10.01" lengthAdjust="spacingAndGlyphs">2a</text>
<line x1="111.50" y1="196.45" x2="167.00" y2="196.45" stroke="#e2e2e2" stroke-width="0.9"/>
<rect x="112.90" y="194.20" width="8.80" height="1.80" fill="#e68e29"/>
<text x="117.30" y="193.35" font-size="3.78" text-anchor="middle" fill="#222" stroke="#222" stroke-width="0.11" textLength="1.95" lengthAdjust="spacingAndGlyphs">5</text>
<rect x="123.30" y="167.20" width="8.80" height="28.80" fill="#e68e29"/>
<text x="127.70" y="166.35" font-size="3.78" text-anchor="middle" fill="#222" stroke="#222" stroke-width="0.11" textLength="3.89" lengthAdjust="spacingAndGlyphs">80</text>
<rect x="133.90" y="194.20" width="8.80" height="1.80" fill="#e68e29"/>
<text x="138.30" y="193.35" font-size="3.78" text-anchor="middle" fill="#222" stroke="#222" stroke-width="0.11" textLength="1.95" lengthAdjust="spacingAndGlyphs">5</text>
<rect x="144.10" y="194.20" width="8.80" height="1.80" fill="#e68e29"/>
<text x="148.50" y="193.35" font-size="3.78" text-anchor="middle" fill="#222" stroke="#222" stroke-width="0.11" textLength="1.95" lengthAdjust="spacingAndGlyphs">5</text>
<rect x="154.00" y="194.20" width="8.80" height="1.80" fill="#e68e29"/>
<text x="158.40" y="193.35" font-size="3.78" text-anchor="middle" fill="#222" stroke="#222" stroke-width="0.11" textLength="1.95" lengthAdjust="spacingAndGlyphs">5</text>
<text x="97.20" y="208.00" font-size="9.54" font-weight="bold" stroke="#111" stroke-width="0.15" textLength="10.50" lengthAdjust="spacingAndGlyphs">2b</text>
<line x1="111.50" y1="231.65" x2="167.00" y2="231.65" stroke="#e2e2e2" stroke-width="0.9"/>
<rect x="113.20" y="229.40" width="8.80" height="1.80" fill="#e68e29"/>
<text x="117.60" y="228.55" font-size="3.78" text-anchor="middle" fill="#222" stroke="#222" stroke-width="0.11" textLength="1.95" lengthAdjust="spacingAndGlyphs">5</text>
<rect x="123.60" y="229.40" width="8.80" height="1.80" fill="#e68e29"/>
<text x="128.00" y="228.55" font-size="3.78" text-anchor="middle" fill="#222" stroke="#222" stroke-width="0.11" textLength="1.95" lengthAdjust="spacingAndGlyphs">5</text>
<rect x="134.10" y="202.40" width="8.80" height="28.80" fill="#e68e29"/>
<text x="138.50" y="201.55" font-size="3.78" text-anchor="middle" fill="#222" stroke="#222" stroke-width="0.11" textLength="3.89" lengthAdjust="spacingAndGlyphs">80</text>
<rect x="144.40" y="229.40" width="8.80" height="1.80" fill="#e68e29"/>
<text x="148.80" y="228.55" font-size="3.78" text-anchor="middle" fill="#222" stroke="#222" stroke-width="0.11" textLength="1.95" lengthAdjust="spacingAndGlyphs">5</text>
<rect x="154.60" y="229.40" width="8.80" height="1.80" fill="#e68e29"/>
<text x="159.00" y="228.55" font-size="3.78" text-anchor="middle" fill="#222" stroke="#222" stroke-width="0.11" textLength="1.95" lengthAdjust="spacingAndGlyphs">5</text>
<text x="97.20" y="244.30" font-size="9.54" font-weight="bold" stroke="#111" stroke-width="0.15" textLength="10.01" lengthAdjust="spacingAndGlyphs">2c</text>
<line x1="111.50" y1="267.35" x2="167.00" y2="267.35" stroke="#e2e2e2" stroke-width="0.9"/>
<rect x="113.20" y="265.10" width="8.80" height="1.80" fill="#e68e29"/>
<text x="117.60" y="264.25" font-size="3.78" text-anchor="middle" fill="#222" stroke="#222" stroke-width="0.11" textLength="1.95" lengthAdjust="spacingAndGlyphs">5</text>
<rect x="123.60" y="265.10" width="8.80" height="1.80" fill="#e68e29"/>
<text x="128.00" y="264.25" font-size="3.78" text-anchor="middle" fill="#222" stroke="#222" stroke-width="0.11" textLength="1.95" lengthAdjust="spacingAndGlyphs">5</text>
<rect x="134.10" y="265.10" width="8.80" height="1.80" fill="#e68e29"/>
<text x="138.50" y="264.25" font-size="3.78" text-anchor="middle" fill="#222" stroke="#222" stroke-width="0.11" textLength="1.95" lengthAdjust="spacingAndGlyphs">5</text>
<rect x="144.40" y="238.10" width="8.80" height="28.80" fill="#e68e29"/>
<text x="148.80" y="237.25" font-size="3.78" text-anchor="middle" fill="#222" stroke="#222" stroke-width="0.11" textLength="3.89" lengthAdjust="spacingAndGlyphs">80</text>
<rect x="154.60" y="265.10" width="8.80" height="1.80" fill="#e68e29"/>
<text x="159.00" y="264.25" font-size="3.78" text-anchor="middle" fill="#222" stroke="#222" stroke-width="0.11" textLength="1.95" lengthAdjust="spacingAndGlyphs">5</text>
<text x="97.20" y="280.60" font-size="9.54" font-weight="bold" stroke="#111" stroke-width="0.15" textLength="10.50" lengthAdjust="spacingAndGlyphs">2d</text>
<line x1="111.50" y1="300.05" x2="167.00" y2="300.05" stroke="#e2e2e2" stroke-width="0.9"/>
<rect x="113.20" y="284.98" width="8.80" height="14.62" fill="#e68e29"/>
<text x="117.60" y="284.13" font-size="3.78" text-anchor="middle" fill="#222" stroke="#222" stroke-width="0.11" textLength="6.81" lengthAdjust="spacingAndGlyphs">40.6</text>
<rect x="123.60" y="297.35" width="8.80" height="2.25" fill="#e68e29"/>
<text x="128.00" y="296.50" font-size="3.78" text-anchor="middle" fill="#222" stroke="#222" stroke-width="0.11" textLength="6.81" lengthAdjust="spacingAndGlyphs">6.25</text>
<rect x="134.10" y="297.35" width="8.80" height="2.25" fill="#e68e29"/>
<text x="138.50" y="296.50" font-size="3.78" text-anchor="middle" fill="#222" stroke="#222" stroke-width="0.11" textLength="6.81" lengthAdjust="spacingAndGlyphs">6.25</text>
<rect x="144.40" y="297.35" width="8.80" height="2.25" fill="#e68e29"/>
<text x="148.80" y="296.50" font-size="3.78" text-anchor="middle" fill="#222" stroke="#222" stroke-width="0.11" textLength="6.81" lengthAdjust="spacingAndGlyphs">6.25</text>
<rect x="154.60" y="284.98" width="8.80" height="14.62" fill="#e68e29"/>
<text x="159.00" y="284.13" font-size="3.78" text-anchor="middle" fill="#222" stroke="#222" stroke-width="0.11" textLength="6.81" lengthAdjust="spacingAndGlyphs">40.6</text>
<text x="97.20" y="313.30" font-size="9.54" font-weight="bold" stroke="#111" stroke-width="0.15" textLength="10.01" lengthAdjust="spacingAndGlyphs">2e</text>
<line x1="111.50" y1="324.65" x2="167.00" y2="324.65" stroke="#e2e2e2" stroke-width="0.9"/>
<rect x="114.20" y="317.00" width="8.80" height="7.20" fill="#e68e29"/>
<text x="118.60" y="316.15" font-size="3.78" text-anchor="middle" fill="#222" stroke="#222" stroke-width="0.11" textLength="3.89" lengthAdjust="spacingAndGlyphs">20</text>
<rect x="124.60" y="317.00" width="8.80" height="7.20" fill="#e68e29"/>
<text x="129.00" y="316.15" font-size="3.78" text-anchor="middle" fill="#222" stroke="#222" stroke-width="0.11" textLength="3.89" lengthAdjust="spacingAndGlyphs">20</text>
<rect x="134.90" y="317.00" width="8.80" height="7.20" fill="#e68e29"/>
<text x="139.30" y="316.15" font-size="3.78" text-anchor="middle" fill="#222" stroke="#222" stroke-width="0.11" textLength="3.89" lengthAdjust="spacingAndGlyphs">20</text>
<rect x="145.10" y="317.00" width="8.80" height="7.20" fill="#e68e29"/>
<text x="149.50" y="316.15" font-size="3.78" text-anchor="middle" fill="#222" stroke="#222" stroke-width="0.11" textLength="3.89" lengthAdjust="spacingAndGlyphs">20</text>
<rect x="155.20" y="317.00" width="8.80" height="7.20" fill="#e68e29"/>
<text x="159.60" y="316.15" font-size="3.78" text-anchor="middle" fill="#222" stroke="#222" stroke-width="0.11" textLength="3.89" lengthAdjust="spacingAndGlyphs">20</text>
<line x1="111.50" y1="354.45" x2="167.00" y2="354.45" stroke="#e2e2e2" stroke-width="0.9"/>
<rect x="114.20" y="339.38" width="8.80" height="14.62" fill="#e68e29"/>
<text x="118.60" y="338.53" font-size="3.78" text-anchor="middle" fill="#222" stroke="#222" stroke-width="0.11" textLength="6.81" lengthAdjust="spacingAndGlyphs">40.6</text>
<rect x="124.60" y="351.75" width="8.80" height="2.25" fill="#e68e29"/>
<text x="129.00" y="350.90" font-size="3.78" text-anchor="middle" fill="#222" stroke="#222" stroke-width="0.11" textLength="6.81" lengthAdjust="spacingAndGlyphs">6.25</text>
<rect x="134.90" y="351.75" width="8.80" height="2.25" fill="#e68e29"/>
<text x="139.30" y="350.90" font-size="3.78" text-anchor="middle" fill="#222" stroke="#222" stroke-width="0.11" textLength="6.81" lengthAdjust="spacingAndGlyphs">6.25</text>
<rect x="145.10" y="351.75" width="8.80" height="2.25" fill="#e68e29"/>
<text x="149.50" y="350.90" font-size="3.78" text-anchor="middle" fill="#222" stroke="#222" stroke-width="0.11" textLength="6.81" lengthAdjust="spacingAndGlyphs">6.25</text>
<rect x="155.20" y="339.38" width="8.80" height="14.62" fill="#e68e29"/>
<text x="159.60" y="338.53" font-size="3.78" text-anchor="middle" fill="#222" stroke="#222" stroke-width="0.11" textLength="6.81" lengthAdjust="spacingAndGlyphs">40.6</text>
<text x="115.00" y="309.80" font-size="5.17" fill="#222" stroke="#222" stroke-width="0.14" textLength="18.80" lengthAdjust="spacingAndGlyphs">First Half</text>
<text x="115.00" y="334.40" font-size="5.17" fill="#222" stroke="#222" stroke-width="0.14" textLength="25.60" lengthAdjust="spacingAndGlyphs">Second Half</text>
<text x="118.60" y="359.40" font-size="4.20" text-anchor="middle" fill="#222" stroke="#222" stroke-width="0.12" textLength="6.67" lengthAdjust="spacingAndGlyphs" transform="rotate(-25 118.60 359.40)">900</text>
<text x="129.00" y="359.40" font-size="4.20" text-anchor="middle" fill="#222" stroke="#222" stroke-width="0.12" textLength="6.67" lengthAdjust="spacingAndGlyphs" transform="rotate(-25 129.00 359.40)">950</text>
<text x="139.30" y="359.40" font-size="4.20" text-anchor="middle" fill="#222" stroke="#222" stroke-width="0.12" textLength="8.90" lengthAdjust="spacingAndGlyphs" transform="rotate(-25 139.30 359.40)">1000</text>
<text x="149.50" y="359.40" font-size="4.20" text-anchor="middle" fill="#222" stroke="#222" stroke-width="0.12" textLength="8.90" lengthAdjust="spacingAndGlyphs" transform="rotate(-25 149.50 359.40)">1060</text>
<text x="159.60" y="359.40" font-size="4.20" text-anchor="middle" fill="#222" stroke="#222" stroke-width="0.12" textLength="8.60" lengthAdjust="spacingAndGlyphs" transform="rotate(-25 159.60 359.40)">1120</text>
<text x="140.00" y="365.40" font-size="4.84" text-anchor="middle" fill="#222" stroke="#222" stroke-width="0.10" textLength="30.32" lengthAdjust="spacingAndGlyphs">Frequency (Hz)</text>
<text x="189.90" y="116.00" font-size="10.70" stroke="#111" stroke-width="0.30">Experiments 3 and 4</text>
<text x="189.90" y="138.40" font-size="9.48" font-weight="bold" stroke="#111" stroke-width="0.12" textLength="10.23" lengthAdjust="spacingAndGlyphs">3a</text>
<text x="230.60" y="138.40" font-size="9.48" font-weight="bold" stroke="#111" stroke-width="0.12" textLength="10.74" lengthAdjust="spacingAndGlyphs">3b</text>
<text x="275.60" y="138.40" font-size="9.48" font-weight="bold" stroke="#111" stroke-width="0.12" textLength="10.23" lengthAdjust="spacingAndGlyphs">3c</text>
<text x="188.50" y="175.80" font-size="9.48" font-weight="bold" stroke="#111" stroke-width="0.12" textLength="10.23" lengthAdjust="spacingAndGlyphs">4a</text>
<text x="232.30" y="175.80" font-size="9.48" font-weight="bold" stroke="#111" stroke-width="0.12" textLength="10.74" lengthAdjust="spacingAndGlyphs">4b</text>
<text x="275.60" y="176.30" font-size="9.48" font-weight="bold" stroke="#111" stroke-width="0.12" textLength="10.23" lengthAdjust="spacingAndGlyphs">4c</text>
<line x1="201.80" y1="159.75" x2="234.20" y2="159.75" stroke="#e2e2e2" stroke-width="0.9"/>
<rect x="206.60" y="132.30" width="8.70" height="27.00" fill="#4a96d3"/>
<text x="210.95" y="131.45" font-size="3.78" text-anchor="middle" fill="#222" stroke="#222" stroke-width="0.11" textLength="3.89" lengthAdjust="spacingAndGlyphs">75</text>
<rect x="216.60" y="150.30" width="8.70" height="9.00" fill="#4a96d3"/>
<text x="220.95" y="149.45" font-size="3.78" text-anchor="middle" fill="#222" stroke="#222" stroke-width="0.11" textLength="3.89" lengthAdjust="spacingAndGlyphs">25</text>
<line x1="242.10" y1="159.75" x2="272.00" y2="159.75" stroke="#e2e2e2" stroke-width="0.9"/>
<rect x="245.10" y="150.30" width="8.80" height="9.00" fill="#4a96d3"/>
<text x="249.50" y="149.45" font-size="3.78" text-anchor="middle" fill="#222" stroke="#222" stroke-width="0.11" textLength="3.89" lengthAdjust="spacingAndGlyphs">25</text>
<rect x="255.40" y="132.30" width="8.80" height="27.00" fill="#4a96d3"/>
<text x="259.80" y="131.45" font-size="3.78" text-anchor="middle" fill="#222" stroke="#222" stroke-width="0.11" textLength="3.89" lengthAdjust="spacingAndGlyphs">75</text>
<line x1="283.40" y1="159.90" x2="398.60" y2="159.90" stroke="#e2e2e2" stroke-width="0.9"/>
<rect x="290.10" y="132.30" width="8.80" height="27.00" fill="#4a96d3"/>
<text x="294.50" y="131.45" font-size="3.78" text-anchor="middle" fill="#222" stroke="#222" stroke-width="0.11" textLength="3.89" lengthAdjust="spacingAndGlyphs">75</text>
<rect x="300.70" y="150.30" width="8.80" height="9.00" fill="#4a96d3"/>
<text x="305.10" y="149.45" font-size="3.78" text-anchor="middle" fill="#222" stroke="#222" stroke-width="0.11" textLength="3.89" lengthAdjust="spacingAndGlyphs">25</text>
<rect x="317.80" y="150.30" width="8.80" height="9.00" fill="#4a96d3"/>
<text x="322.20" y="149.45" font-size="3.78" text-anchor="middle" fill="#222" stroke="#222" stroke-width="0.11" textLength="3.89" lengthAdjust="spacingAndGlyphs">25</text>
<rect x="328.10" y="132.30" width="8.80" height="27.00" fill="#4a96d3"/>
<text x="332.50" y="131.45" font-size="3.78" text-anchor="middle" fill="#222" stroke="#222" stroke-width="0.11" textLength="3.89" lengthAdjust="spacingAndGlyphs">75</text>
<rect x="345.50" y="132.30" width="8.80" height="27.00" fill="#4a96d3"/>
<text x="349.90" y="131.45" font-size="3.78" text-anchor="middle" fill="#222" stroke="#222" stroke-width="0.11" textLength="3.89" lengthAdjust="spacingAndGlyphs">75</text>
<rect x="355.90" y="150.30" width="8.80" height="9.00" fill="#4a96d3"/>
<text x="360.30" y="149.45" font-size="3.78" text-anchor="middle" fill="#222" stroke="#222" stroke-width="0.11" textLength="3.89" lengthAdjust="spacingAndGlyphs">25</text>
<rect x="372.40" y="150.30" width="8.80" height="9.00" fill="#4a96d3"/>
<text x="376.80" y="149.45" font-size="3.78" text-anchor="middle" fill="#222" stroke="#222" stroke-width="0.11" textLength="3.89" lengthAdjust="spacingAndGlyphs">25</text>
<rect x="382.50" y="132.30" width="8.80" height="27.00" fill="#4a96d3"/>
<text x="386.90" y="131.45" font-size="3.78" text-anchor="middle" fill="#222" stroke="#222" stroke-width="0.11" textLength="3.89" lengthAdjust="spacingAndGlyphs">75</text>
<line x1="201.80" y1="198.05" x2="234.20" y2="198.05" stroke="#e2e2e2" stroke-width="0.9"/>
<rect x="206.60" y="170.60" width="8.70" height="27.00" fill="#e68e29"/>
<text x="210.95" y="169.75" font-size="3.78" text-anchor="middle" fill="#222" stroke="#222" stroke-width="0.11" textLength="3.89" lengthAdjust="spacingAndGlyphs">75</text>
<rect x="216.60" y="188.60" width="8.70" height="9.00" fill="#e68e29"/>
<text x="220.95" y="187.75" font-size="3.78" text-anchor="middle" fill="#222" stroke="#222" stroke-width="0.11" textLength="3.89" lengthAdjust="spacingAndGlyphs">25</text>
<line x1="242.10" y1="198.05" x2="272.00" y2="198.05" stroke="#e2e2e2" stroke-width="0.9"/>
<rect x="245.60" y="188.60" width="8.80" height="9.00" fill="#e68e29"/>
<text x="250.00" y="187.75" font-size="3.78" text-anchor="middle" fill="#222" stroke="#222" stroke-width="0.11" textLength="3.89" lengthAdjust="spacingAndGlyphs">25</text>
<rect x="255.90" y="170.60" width="8.80" height="27.00" fill="#e68e29"/>
<text x="260.30" y="169.75" font-size="3.78" text-anchor="middle" fill="#222" stroke="#222" stroke-width="0.11" textLength="3.89" lengthAdjust="spacingAndGlyphs">75</text>
<line x1="283.40" y1="198.20" x2="398.60" y2="198.20" stroke="#e2e2e2" stroke-width="0.9"/>
<rect x="288.90" y="170.60" width="8.80" height="27.00" fill="#e68e29"/>
<text x="293.30" y="169.75" font-size="3.78" text-anchor="middle" fill="#222" stroke="#222" stroke-width="0.11" textLength="3.89" lengthAdjust="spacingAndGlyphs">75</text>
<rect x="299.40" y="188.60" width="8.80" height="9.00" fill="#e68e29"/>
<text x="303.80" y="187.75" font-size="3.78" text-anchor="middle" fill="#222" stroke="#222" stroke-width="0.11" textLength="3.89" lengthAdjust="spacingAndGlyphs">25</text>
<rect x="316.70" y="188.60" width="8.80" height="9.00" fill="#e68e29"/>
<text x="321.10" y="187.75" font-size="3.78" text-anchor="middle" fill="#222" stroke="#222" stroke-width="0.11" textLength="3.89" lengthAdjust="spacingAndGlyphs">25</text>
<rect x="327.00" y="170.60" width="8.80" height="27.00" fill="#e68e29"/>
<text x="331.40" y="169.75" font-size="3.78" text-anchor="middle" fill="#222" stroke="#222" stroke-width="0.11" textLength="3.89" lengthAdjust="spacingAndGlyphs">75</text>
<rect x="344.60" y="170.60" width="8.80" height="27.00" fill="#e68e29"/>
<text x="349.00" y="169.75" font-size="3.78" text-anchor="middle" fill="#222" stroke="#222" stroke-width="0.11" textLength="3.89" lengthAdjust="spacingAndGlyphs">75</text>
<rect x="355.10" y="188.60" width="8.80" height="9.00" fill="#e68e29"/>
<text x="359.50" y="187.75" font-size="3.78" text-anchor="middle" fill="#222" stroke="#222" stroke-width="0.11" textLength="3.89" lengthAdjust="spacingAndGlyphs">25</text>
<rect x="371.40" y="188.60" width="8.80" height="9.00" fill="#e68e29"/>
<text x="375.80" y="187.75" font-size="3.78" text-anchor="middle" fill="#222" stroke="#222" stroke-width="0.11" textLength="3.89" lengthAdjust="spacingAndGlyphs">25</text>
<rect x="381.90" y="170.60" width="8.80" height="27.00" fill="#e68e29"/>
<text x="386.30" y="169.75" font-size="3.78" text-anchor="middle" fill="#222" stroke="#222" stroke-width="0.11" textLength="3.89" lengthAdjust="spacingAndGlyphs">75</text>
<text x="210.95" y="204.30" font-size="4.20" text-anchor="middle" fill="#222" stroke="#222" stroke-width="0.12" textLength="8.90" lengthAdjust="spacingAndGlyphs" transform="rotate(-20 210.95 204.30)">1000</text>
<text x="220.95" y="204.30" font-size="4.20" text-anchor="middle" fill="#222" stroke="#222" stroke-width="0.12" textLength="8.60" lengthAdjust="spacingAndGlyphs" transform="rotate(-20 220.95 204.30)">1105</text>
<text x="250.00" y="204.30" font-size="4.20" text-anchor="middle" fill="#222" stroke="#222" stroke-width="0.12" textLength="8.90" lengthAdjust="spacingAndGlyphs" transform="rotate(-20 250.00 204.30)">1000</text>
<text x="260.30" y="204.30" font-size="4.20" text-anchor="middle" fill="#222" stroke="#222" stroke-width="0.12" textLength="8.60" lengthAdjust="spacingAndGlyphs" transform="rotate(-20 260.30 204.30)">1105</text>
<text x="216.40" y="211.00" font-size="4.62" text-anchor="middle" fill="#222" stroke="#222" stroke-width="0.08" textLength="29.10" lengthAdjust="spacingAndGlyphs">Frequency (Hz)</text>
<text x="255.10" y="210.30" font-size="4.62" text-anchor="middle" fill="#222" stroke="#222" stroke-width="0.08" textLength="30.00" lengthAdjust="spacingAndGlyphs">Frequency (Hz)</text>
<text x="293.30" y="203.60" font-size="4.20" text-anchor="middle" fill="#222" stroke="#222" stroke-width="0.12" textLength="8.90" lengthAdjust="spacingAndGlyphs" transform="rotate(-20 293.30 203.60)">1000</text>
<text x="303.80" y="203.60" font-size="4.20" text-anchor="middle" fill="#222" stroke="#222" stroke-width="0.12" textLength="8.60" lengthAdjust="spacingAndGlyphs" transform="rotate(-20 303.80 203.60)">1105</text>
<text x="299.05" y="211.90" font-size="5.06" font-weight="bold" text-anchor="middle" stroke="#111" stroke-width="0.08" textLength="16.36" lengthAdjust="spacingAndGlyphs">Block 1</text>
<text x="321.10" y="203.60" font-size="4.20" text-anchor="middle" fill="#222" stroke="#222" stroke-width="0.12" textLength="8.90" lengthAdjust="spacingAndGlyphs" transform="rotate(-20 321.10 203.60)">1000</text>
<text x="331.40" y="203.60" font-size="4.20" text-anchor="middle" fill="#222" stroke="#222" stroke-width="0.12" textLength="8.60" lengthAdjust="spacingAndGlyphs" transform="rotate(-20 331.40 203.60)">1105</text>
<text x="326.75" y="211.90" font-size="5.06" font-weight="bold" text-anchor="middle" stroke="#111" stroke-width="0.08" textLength="16.36" lengthAdjust="spacingAndGlyphs">Block 2</text>
<text x="349.00" y="203.60" font-size="4.20" text-anchor="middle" fill="#222" stroke="#222" stroke-width="0.12" textLength="8.90" lengthAdjust="spacingAndGlyphs" transform="rotate(-20 349.00 203.60)">1000</text>
<text x="359.50" y="203.60" font-size="4.20" text-anchor="middle" fill="#222" stroke="#222" stroke-width="0.12" textLength="8.60" lengthAdjust="spacingAndGlyphs" transform="rotate(-20 359.50 203.60)">1105</text>
<text x="354.75" y="211.90" font-size="5.06" font-weight="bold" text-anchor="middle" stroke="#111" stroke-width="0.08" textLength="16.36" lengthAdjust="spacingAndGlyphs">Block 3</text>
<text x="375.80" y="203.60" font-size="4.20" text-anchor="middle" fill="#222" stroke="#222" stroke-width="0.12" textLength="8.90" lengthAdjust="spacingAndGlyphs" transform="rotate(-20 375.80 203.60)">1000</text>
<text x="386.30" y="203.60" font-size="4.20" text-anchor="middle" fill="#222" stroke="#222" stroke-width="0.12" textLength="8.60" lengthAdjust="spacingAndGlyphs" transform="rotate(-20 386.30 203.60)">1105</text>
<text x="381.55" y="211.90" font-size="5.06" font-weight="bold" text-anchor="middle" stroke="#111" stroke-width="0.08" textLength="16.36" lengthAdjust="spacingAndGlyphs">Block 4</text>
<text x="412.60" y="114.10" font-size="10.70" stroke="#111" stroke-width="0.30">Experiments 5 and 6</text>
<text x="412.80" y="140.00" font-size="9.17" font-weight="bold" stroke="#111" stroke-width="0.12" textLength="9.90" lengthAdjust="spacingAndGlyphs">5a</text>
<text x="412.80" y="181.00" font-size="9.17" font-weight="bold" stroke="#111" stroke-width="0.12" textLength="9.90" lengthAdjust="spacingAndGlyphs">6a</text>
<text x="530.00" y="140.00" font-size="9.17" font-weight="bold" stroke="#111" stroke-width="0.12" textLength="10.39" lengthAdjust="spacingAndGlyphs">5b</text>
<text x="528.60" y="181.00" font-size="9.17" font-weight="bold" stroke="#111" stroke-width="0.12" textLength="10.39" lengthAdjust="spacingAndGlyphs">6b</text>
<text x="427.10" y="138.00" font-size="5.04" fill="#333" stroke="#333" stroke-width="0.05" textLength="9.33" lengthAdjust="spacingAndGlyphs">First</text>
<text x="427.10" y="143.00" font-size="5.04" fill="#333" stroke="#333" stroke-width="0.05" textLength="8.54" lengthAdjust="spacingAndGlyphs">Half</text>
<line x1="416.00" y1="159.35" x2="477.50" y2="159.35" stroke="#e2e2e2" stroke-width="0.9"/>
<rect x="427.10" y="152.20" width="8.90" height="6.70" fill="#4a96d3"/>
<text x="431.55" y="151.35" font-size="4.97" text-anchor="middle" fill="#222" stroke="#222" stroke-width="0.14" textLength="5.12" lengthAdjust="spacingAndGlyphs">20</text>
<rect x="437.30" y="152.20" width="8.90" height="6.70" fill="#4a96d3"/>
<text x="441.75" y="151.35" font-size="4.97" text-anchor="middle" fill="#222" stroke="#222" stroke-width="0.14" textLength="5.12" lengthAdjust="spacingAndGlyphs">20</text>
<rect x="447.80" y="152.20" width="8.90" height="6.70" fill="#4a96d3"/>
<text x="452.25" y="151.35" font-size="4.97" text-anchor="middle" fill="#222" stroke="#222" stroke-width="0.14" textLength="5.12" lengthAdjust="spacingAndGlyphs">20</text>
<rect x="458.00" y="152.20" width="8.90" height="6.70" fill="#4a96d3"/>
<text x="462.45" y="151.35" font-size="4.97" text-anchor="middle" fill="#222" stroke="#222" stroke-width="0.14" textLength="5.12" lengthAdjust="spacingAndGlyphs">20</text>
<rect x="468.10" y="152.20" width="8.90" height="6.70" fill="#4a96d3"/>
<text x="472.55" y="151.35" font-size="4.97" text-anchor="middle" fill="#222" stroke="#222" stroke-width="0.14" textLength="5.12" lengthAdjust="spacingAndGlyphs">20</text>
<text x="481.00" y="138.00" font-size="5.04" fill="#333" stroke="#333" stroke-width="0.05" textLength="16.28" lengthAdjust="spacingAndGlyphs">Second</text>
<text x="481.00" y="143.00" font-size="5.04" fill="#333" stroke="#333" stroke-width="0.05" textLength="8.54" lengthAdjust="spacingAndGlyphs">Half</text>
<line x1="483.50" y1="159.35" x2="532.80" y2="159.35" stroke="#e2e2e2" stroke-width="0.9"/>
<rect x="484.30" y="157.22" width="8.90" height="1.68" fill="#4a96d3"/>
<text x="488.75" y="156.38" font-size="4.97" text-anchor="middle" fill="#222" stroke="#222" stroke-width="0.14" textLength="2.56" lengthAdjust="spacingAndGlyphs">5</text>
<rect x="494.10" y="157.22" width="8.90" height="1.68" fill="#4a96d3"/>
<text x="498.55" y="156.38" font-size="4.97" text-anchor="middle" fill="#222" stroke="#222" stroke-width="0.14" textLength="2.56" lengthAdjust="spacingAndGlyphs">5</text>
<rect x="504.10" y="132.10" width="8.90" height="26.80" fill="#4a96d3"/>
<text x="508.55" y="131.25" font-size="4.97" text-anchor="middle" fill="#222" stroke="#222" stroke-width="0.14" textLength="5.12" lengthAdjust="spacingAndGlyphs">80</text>
<rect x="513.50" y="157.22" width="8.90" height="1.68" fill="#4a96d3"/>
<text x="517.95" y="156.38" font-size="4.97" text-anchor="middle" fill="#222" stroke="#222" stroke-width="0.14" textLength="2.56" lengthAdjust="spacingAndGlyphs">5</text>
<rect x="523.10" y="157.22" width="8.90" height="1.68" fill="#4a96d3"/>
<text x="527.55" y="156.38" font-size="4.97" text-anchor="middle" fill="#222" stroke="#222" stroke-width="0.14" textLength="2.56" lengthAdjust="spacingAndGlyphs">5</text>
<text x="545.40" y="138.00" font-size="5.04" fill="#333" stroke="#333" stroke-width="0.05" textLength="9.33" lengthAdjust="spacingAndGlyphs">First</text>
<text x="545.40" y="143.00" font-size="5.04" fill="#333" stroke="#333" stroke-width="0.05" textLength="8.54" lengthAdjust="spacingAndGlyphs">Half</text>
<line x1="545.00" y1="159.35" x2="598.00" y2="159.35" stroke="#e2e2e2" stroke-width="0.9"/>
<rect x="548.80" y="157.22" width="8.90" height="1.68" fill="#4a96d3"/>
<text x="553.25" y="156.38" font-size="4.97" text-anchor="middle" fill="#222" stroke="#222" stroke-width="0.14" textLength="2.56" lengthAdjust="spacingAndGlyphs">5</text>
<rect x="558.70" y="157.22" width="8.90" height="1.68" fill="#4a96d3"/>
<text x="563.15" y="156.38" font-size="4.97" text-anchor="middle" fill="#222" stroke="#222" stroke-width="0.14" textLength="2.56" lengthAdjust="spacingAndGlyphs">5</text>
<rect x="568.30" y="132.10" width="8.90" height="26.80" fill="#4a96d3"/>
<text x="572.75" y="131.25" font-size="4.97" text-anchor="middle" fill="#222" stroke="#222" stroke-width="0.14" textLength="5.12" lengthAdjust="spacingAndGlyphs">80</text>
<rect x="578.00" y="157.22" width="8.90" height="1.68" fill="#4a96d3"/>
<text x="582.45" y="156.38" font-size="4.97" text-anchor="middle" fill="#222" stroke="#222" stroke-width="0.14" textLength="2.56" lengthAdjust="spacingAndGlyphs">5</text>
<rect x="587.80" y="157.22" width="8.90" height="1.68" fill="#4a96d3"/>
<text x="592.25" y="156.38" font-size="4.97" text-anchor="middle" fill="#222" stroke="#222" stroke-width="0.14" textLength="2.56" lengthAdjust="spacingAndGlyphs">5</text>
<text x="603.00" y="138.00" font-size="5.04" fill="#333" stroke="#333" stroke-width="0.05" textLength="16.28" lengthAdjust="spacingAndGlyphs">Second</text>
<text x="603.00" y="143.00" font-size="5.04" fill="#333" stroke="#333" stroke-width="0.05" textLength="8.54" lengthAdjust="spacingAndGlyphs">Half</text>
<line x1="600.50" y1="159.35" x2="657.20" y2="159.35" stroke="#e2e2e2" stroke-width="0.9"/>
<rect x="603.00" y="152.20" width="8.90" height="6.70" fill="#4a96d3"/>
<text x="607.45" y="151.35" font-size="4.97" text-anchor="middle" fill="#222" stroke="#222" stroke-width="0.14" textLength="5.12" lengthAdjust="spacingAndGlyphs">20</text>
<rect x="613.00" y="152.20" width="8.90" height="6.70" fill="#4a96d3"/>
<text x="617.45" y="151.35" font-size="4.97" text-anchor="middle" fill="#222" stroke="#222" stroke-width="0.14" textLength="5.12" lengthAdjust="spacingAndGlyphs">20</text>
<rect x="623.00" y="152.20" width="8.90" height="6.70" fill="#4a96d3"/>
<text x="627.45" y="151.35" font-size="4.97" text-anchor="middle" fill="#222" stroke="#222" stroke-width="0.14" textLength="5.12" lengthAdjust="spacingAndGlyphs">20</text>
<rect x="633.30" y="152.20" width="8.90" height="6.70" fill="#4a96d3"/>
<text x="637.75" y="151.35" font-size="4.97" text-anchor="middle" fill="#222" stroke="#222" stroke-width="0.14" textLength="5.12" lengthAdjust="spacingAndGlyphs">20</text>
<rect x="643.50" y="152.20" width="8.90" height="6.70" fill="#4a96d3"/>
<text x="647.95" y="151.35" font-size="4.97" text-anchor="middle" fill="#222" stroke="#222" stroke-width="0.14" textLength="5.12" lengthAdjust="spacingAndGlyphs">20</text>
<text x="427.10" y="178.00" font-size="5.04" fill="#333" stroke="#333" stroke-width="0.05" textLength="9.33" lengthAdjust="spacingAndGlyphs">First</text>
<text x="427.10" y="183.00" font-size="5.04" fill="#333" stroke="#333" stroke-width="0.05" textLength="8.54" lengthAdjust="spacingAndGlyphs">Half</text>
<line x1="416.00" y1="199.35" x2="477.50" y2="199.35" stroke="#e2e2e2" stroke-width="0.9"/>
<rect x="427.10" y="192.20" width="8.90" height="6.70" fill="#e68e29"/>
<text x="431.55" y="191.35" font-size="4.97" text-anchor="middle" fill="#222" stroke="#222" stroke-width="0.14" textLength="5.12" lengthAdjust="spacingAndGlyphs">20</text>
<rect x="437.30" y="192.20" width="8.90" height="6.70" fill="#e68e29"/>
<text x="441.75" y="191.35" font-size="4.97" text-anchor="middle" fill="#222" stroke="#222" stroke-width="0.14" textLength="5.12" lengthAdjust="spacingAndGlyphs">20</text>
<rect x="447.80" y="192.20" width="8.90" height="6.70" fill="#e68e29"/>
<text x="452.25" y="191.35" font-size="4.97" text-anchor="middle" fill="#222" stroke="#222" stroke-width="0.14" textLength="5.12" lengthAdjust="spacingAndGlyphs">20</text>
<rect x="458.00" y="192.20" width="8.90" height="6.70" fill="#e68e29"/>
<text x="462.45" y="191.35" font-size="4.97" text-anchor="middle" fill="#222" stroke="#222" stroke-width="0.14" textLength="5.12" lengthAdjust="spacingAndGlyphs">20</text>
<rect x="468.10" y="192.20" width="8.90" height="6.70" fill="#e68e29"/>
<text x="472.55" y="191.35" font-size="4.97" text-anchor="middle" fill="#222" stroke="#222" stroke-width="0.14" textLength="5.12" lengthAdjust="spacingAndGlyphs">20</text>
<text x="481.00" y="178.00" font-size="5.04" fill="#333" stroke="#333" stroke-width="0.05" textLength="16.28" lengthAdjust="spacingAndGlyphs">Second</text>
<text x="481.00" y="183.00" font-size="5.04" fill="#333" stroke="#333" stroke-width="0.05" textLength="8.54" lengthAdjust="spacingAndGlyphs">Half</text>
<line x1="483.50" y1="199.35" x2="532.80" y2="199.35" stroke="#e2e2e2" stroke-width="0.9"/>
<rect x="484.30" y="197.22" width="8.90" height="1.68" fill="#e68e29"/>
<text x="488.75" y="196.38" font-size="4.97" text-anchor="middle" fill="#222" stroke="#222" stroke-width="0.14" textLength="2.56" lengthAdjust="spacingAndGlyphs">5</text>
<rect x="494.10" y="197.22" width="8.90" height="1.68" fill="#e68e29"/>
<text x="498.55" y="196.38" font-size="4.97" text-anchor="middle" fill="#222" stroke="#222" stroke-width="0.14" textLength="2.56" lengthAdjust="spacingAndGlyphs">5</text>
<rect x="504.10" y="172.10" width="8.90" height="26.80" fill="#e68e29"/>
<text x="508.55" y="171.25" font-size="4.97" text-anchor="middle" fill="#222" stroke="#222" stroke-width="0.14" textLength="5.12" lengthAdjust="spacingAndGlyphs">80</text>
<rect x="513.50" y="197.22" width="8.90" height="1.68" fill="#e68e29"/>
<text x="517.95" y="196.38" font-size="4.97" text-anchor="middle" fill="#222" stroke="#222" stroke-width="0.14" textLength="2.56" lengthAdjust="spacingAndGlyphs">5</text>
<rect x="523.10" y="197.22" width="8.90" height="1.68" fill="#e68e29"/>
<text x="527.55" y="196.38" font-size="4.97" text-anchor="middle" fill="#222" stroke="#222" stroke-width="0.14" textLength="2.56" lengthAdjust="spacingAndGlyphs">5</text>
<text x="545.40" y="178.00" font-size="5.04" fill="#333" stroke="#333" stroke-width="0.05" textLength="9.33" lengthAdjust="spacingAndGlyphs">First</text>
<text x="545.40" y="183.00" font-size="5.04" fill="#333" stroke="#333" stroke-width="0.05" textLength="8.54" lengthAdjust="spacingAndGlyphs">Half</text>
<line x1="545.00" y1="199.35" x2="598.00" y2="199.35" stroke="#e2e2e2" stroke-width="0.9"/>
<rect x="548.80" y="197.22" width="8.90" height="1.68" fill="#e68e29"/>
<text x="553.25" y="196.38" font-size="4.97" text-anchor="middle" fill="#222" stroke="#222" stroke-width="0.14" textLength="2.56" lengthAdjust="spacingAndGlyphs">5</text>
<rect x="558.70" y="197.22" width="8.90" height="1.68" fill="#e68e29"/>
<text x="563.15" y="196.38" font-size="4.97" text-anchor="middle" fill="#222" stroke="#222" stroke-width="0.14" textLength="2.56" lengthAdjust="spacingAndGlyphs">5</text>
<rect x="568.30" y="172.10" width="8.90" height="26.80" fill="#e68e29"/>
<text x="572.75" y="171.25" font-size="4.97" text-anchor="middle" fill="#222" stroke="#222" stroke-width="0.14" textLength="5.12" lengthAdjust="spacingAndGlyphs">80</text>
<rect x="578.00" y="197.22" width="8.90" height="1.68" fill="#e68e29"/>
<text x="582.45" y="196.38" font-size="4.97" text-anchor="middle" fill="#222" stroke="#222" stroke-width="0.14" textLength="2.56" lengthAdjust="spacingAndGlyphs">5</text>
<rect x="587.80" y="197.22" width="8.90" height="1.68" fill="#e68e29"/>
<text x="592.25" y="196.38" font-size="4.97" text-anchor="middle" fill="#222" stroke="#222" stroke-width="0.14" textLength="2.56" lengthAdjust="spacingAndGlyphs">5</text>
<text x="603.00" y="178.00" font-size="5.04" fill="#333" stroke="#333" stroke-width="0.05" textLength="16.28" lengthAdjust="spacingAndGlyphs">Second</text>
<text x="603.00" y="183.00" font-size="5.04" fill="#333" stroke="#333" stroke-width="0.05" textLength="8.54" lengthAdjust="spacingAndGlyphs">Half</text>
<line x1="600.50" y1="199.35" x2="657.20" y2="199.35" stroke="#e2e2e2" stroke-width="0.9"/>
<rect x="603.00" y="192.20" width="8.90" height="6.70" fill="#e68e29"/>
<text x="607.45" y="191.35" font-size="4.97" text-anchor="middle" fill="#222" stroke="#222" stroke-width="0.14" textLength="5.12" lengthAdjust="spacingAndGlyphs">20</text>
<rect x="613.00" y="192.20" width="8.90" height="6.70" fill="#e68e29"/>
<text x="617.45" y="191.35" font-size="4.97" text-anchor="middle" fill="#222" stroke="#222" stroke-width="0.14" textLength="5.12" lengthAdjust="spacingAndGlyphs">20</text>
<rect x="623.00" y="192.20" width="8.90" height="6.70" fill="#e68e29"/>
<text x="627.45" y="191.35" font-size="4.97" text-anchor="middle" fill="#222" stroke="#222" stroke-width="0.14" textLength="5.12" lengthAdjust="spacingAndGlyphs">20</text>
<rect x="633.30" y="192.20" width="8.90" height="6.70" fill="#e68e29"/>
<text x="637.75" y="191.35" font-size="4.97" text-anchor="middle" fill="#222" stroke="#222" stroke-width="0.14" textLength="5.12" lengthAdjust="spacingAndGlyphs">20</text>
<rect x="643.50" y="192.20" width="8.90" height="6.70" fill="#e68e29"/>
<text x="647.95" y="191.35" font-size="4.97" text-anchor="middle" fill="#222" stroke="#222" stroke-width="0.14" textLength="5.12" lengthAdjust="spacingAndGlyphs">20</text>
<text x="431.55" y="204.70" font-size="3.99" text-anchor="middle" fill="#222" stroke="#222" stroke-width="0.11" textLength="6.34" lengthAdjust="spacingAndGlyphs" transform="rotate(-20 431.55 204.70)">850</text>
<text x="441.75" y="204.70" font-size="3.99" text-anchor="middle" fill="#222" stroke="#222" stroke-width="0.11" textLength="6.34" lengthAdjust="spacingAndGlyphs" transform="rotate(-20 441.75 204.70)">950</text>
<text x="452.25" y="204.70" font-size="3.99" text-anchor="middle" fill="#222" stroke="#222" stroke-width="0.11" textLength="8.45" lengthAdjust="spacingAndGlyphs" transform="rotate(-20 452.25 204.70)">1000</text>
<text x="462.45" y="204.70" font-size="3.99" text-anchor="middle" fill="#222" stroke="#222" stroke-width="0.11" textLength="8.45" lengthAdjust="spacingAndGlyphs" transform="rotate(-20 462.45 204.70)">1050</text>
<text x="472.55" y="204.70" font-size="3.99" text-anchor="middle" fill="#222" stroke="#222" stroke-width="0.11" textLength="8.17" lengthAdjust="spacingAndGlyphs" transform="rotate(-20 472.55 204.70)">1100</text>
<text x="452.20" y="211.80" font-size="4.62" text-anchor="middle" fill="#222" stroke="#222" stroke-width="0.08" textLength="29.30" lengthAdjust="spacingAndGlyphs">Frequency (Hz)</text>
<text x="488.75" y="204.70" font-size="3.99" text-anchor="middle" fill="#222" stroke="#222" stroke-width="0.11" textLength="6.34" lengthAdjust="spacingAndGlyphs" transform="rotate(-20 488.75 204.70)">850</text>
<text x="498.55" y="204.70" font-size="3.99" text-anchor="middle" fill="#222" stroke="#222" stroke-width="0.11" textLength="6.34" lengthAdjust="spacingAndGlyphs" transform="rotate(-20 498.55 204.70)">950</text>
<text x="508.55" y="204.70" font-size="3.99" text-anchor="middle" fill="#222" stroke="#222" stroke-width="0.11" textLength="8.45" lengthAdjust="spacingAndGlyphs" transform="rotate(-20 508.55 204.70)">1000</text>
<text x="517.95" y="204.70" font-size="3.99" text-anchor="middle" fill="#222" stroke="#222" stroke-width="0.11" textLength="8.45" lengthAdjust="spacingAndGlyphs" transform="rotate(-20 517.95 204.70)">1050</text>
<text x="527.55" y="204.70" font-size="3.99" text-anchor="middle" fill="#222" stroke="#222" stroke-width="0.11" textLength="8.17" lengthAdjust="spacingAndGlyphs" transform="rotate(-20 527.55 204.70)">1100</text>
<text x="508.50" y="211.80" font-size="4.62" text-anchor="middle" fill="#222" stroke="#222" stroke-width="0.08" textLength="29.30" lengthAdjust="spacingAndGlyphs">Frequency (Hz)</text>
<text x="553.25" y="204.70" font-size="3.99" text-anchor="middle" fill="#222" stroke="#222" stroke-width="0.11" textLength="6.34" lengthAdjust="spacingAndGlyphs" transform="rotate(-20 553.25 204.70)">850</text>
<text x="563.15" y="204.70" font-size="3.99" text-anchor="middle" fill="#222" stroke="#222" stroke-width="0.11" textLength="6.34" lengthAdjust="spacingAndGlyphs" transform="rotate(-20 563.15 204.70)">950</text>
<text x="572.75" y="204.70" font-size="3.99" text-anchor="middle" fill="#222" stroke="#222" stroke-width="0.11" textLength="8.45" lengthAdjust="spacingAndGlyphs" transform="rotate(-20 572.75 204.70)">1000</text>
<text x="582.45" y="204.70" font-size="3.99" text-anchor="middle" fill="#222" stroke="#222" stroke-width="0.11" textLength="8.45" lengthAdjust="spacingAndGlyphs" transform="rotate(-20 582.45 204.70)">1050</text>
<text x="592.25" y="204.70" font-size="3.99" text-anchor="middle" fill="#222" stroke="#222" stroke-width="0.11" textLength="8.17" lengthAdjust="spacingAndGlyphs" transform="rotate(-20 592.25 204.70)">1100</text>
<text x="572.70" y="211.80" font-size="4.62" text-anchor="middle" fill="#222" stroke="#222" stroke-width="0.08" textLength="29.30" lengthAdjust="spacingAndGlyphs">Frequency (Hz)</text>
<text x="607.45" y="204.70" font-size="3.99" text-anchor="middle" fill="#222" stroke="#222" stroke-width="0.11" textLength="6.34" lengthAdjust="spacingAndGlyphs" transform="rotate(-20 607.45 204.70)">850</text>
<text x="617.45" y="204.70" font-size="3.99" text-anchor="middle" fill="#222" stroke="#222" stroke-width="0.11" textLength="6.34" lengthAdjust="spacingAndGlyphs" transform="rotate(-20 617.45 204.70)">950</text>
<text x="627.45" y="204.70" font-size="3.99" text-anchor="middle" fill="#222" stroke="#222" stroke-width="0.11" textLength="8.45" lengthAdjust="spacingAndGlyphs" transform="rotate(-20 627.45 204.70)">1000</text>
<text x="637.75" y="204.70" font-size="3.99" text-anchor="middle" fill="#222" stroke="#222" stroke-width="0.11" textLength="8.45" lengthAdjust="spacingAndGlyphs" transform="rotate(-20 637.75 204.70)">1050</text>
<text x="647.95" y="204.70" font-size="3.99" text-anchor="middle" fill="#222" stroke="#222" stroke-width="0.11" textLength="8.17" lengthAdjust="spacingAndGlyphs" transform="rotate(-20 647.95 204.70)">1100</text>
<text x="627.40" y="211.80" font-size="4.62" text-anchor="middle" fill="#222" stroke="#222" stroke-width="0.08" textLength="29.30" lengthAdjust="spacingAndGlyphs">Frequency (Hz)</text>
<text x="239.60" y="233.20" font-size="10.80" stroke="#111" stroke-width="0.30">Experiment 7</text>
<text x="279.30" y="244.20" font-size="6.33" font-weight="bold" stroke="#111" stroke-width="0.10" textLength="36.74" lengthAdjust="spacingAndGlyphs">Equiprobable</text>
<text x="279.30" y="250.00" font-size="4.95" stroke="#111" stroke-width="0.14" textLength="52.20" lengthAdjust="spacingAndGlyphs">First Half (Exp 7a, 7c, 7e)</text>
<text x="279.30" y="256.90" font-size="4.95" stroke="#111" stroke-width="0.14" textLength="57.80" lengthAdjust="spacingAndGlyphs">Second Half (Exp 7b, 7d, 7f)</text>
<text x="408.90" y="244.20" font-size="6.33" font-weight="bold" stroke="#111" stroke-width="0.10" textLength="26.19" lengthAdjust="spacingAndGlyphs">Unimodal</text>
<text x="408.90" y="250.00" font-size="4.95" stroke="#111" stroke-width="0.14" textLength="52.00" lengthAdjust="spacingAndGlyphs">First Half (Exp 7b, 7d, 7f)</text>
<text x="408.90" y="256.90" font-size="4.95" stroke="#111" stroke-width="0.14" textLength="58.00" lengthAdjust="spacingAndGlyphs">Second Half (Exp 7a, 7c, 7e)</text>
<text x="244.70" y="268.30" font-size="9.40" font-weight="bold" stroke="#111" stroke-width="0.05" textLength="26.65" lengthAdjust="spacingAndGlyphs">7a, 7b</text>
<text x="244.70" y="275.00" font-size="5.17" stroke="#111" stroke-width="0.06" textLength="15.15" lengthAdjust="spacingAndGlyphs">Narrow</text>
<text x="244.40" y="298.00" font-size="9.40" font-weight="bold" stroke="#111" stroke-width="0.05" textLength="26.65" lengthAdjust="spacingAndGlyphs">7c, 7d</text>
<text x="244.40" y="304.20" font-size="5.17" stroke="#111" stroke-width="0.06" textLength="27.60" lengthAdjust="spacingAndGlyphs">Intermediate</text>
<text x="246.10" y="325.40" font-size="9.40" font-weight="bold" stroke="#111" stroke-width="0.05" textLength="24.03" lengthAdjust="spacingAndGlyphs">7e, 7f</text>
<text x="246.10" y="332.80" font-size="5.17" stroke="#111" stroke-width="0.06" textLength="10.71" lengthAdjust="spacingAndGlyphs">Wide</text>
<rect x="315.40" y="259.5" width="10" height="46" rx="5" fill="none" stroke="#ededed" stroke-width="0.5"/>
<rect x="325.60" y="259.5" width="10" height="46" rx="5" fill="none" stroke="#ededed" stroke-width="0.5"/>
<rect x="335.40" y="259.5" width="10" height="46" rx="5" fill="none" stroke="#ededed" stroke-width="0.5"/>
<rect x="345.40" y="259.5" width="10" height="46" rx="5" fill="none" stroke="#ededed" stroke-width="0.5"/>
<rect x="355.60" y="259.5" width="10" height="46" rx="5" fill="none" stroke="#ededed" stroke-width="0.5"/>
<rect x="365.40" y="259.5" width="10" height="46" rx="5" fill="none" stroke="#ededed" stroke-width="0.5"/>
<rect x="375.60" y="259.5" width="10" height="46" rx="5" fill="none" stroke="#ededed" stroke-width="0.5"/>
<rect x="471.60" y="259.5" width="10" height="46" rx="5" fill="none" stroke="#ededed" stroke-width="0.5"/>
<rect x="482.00" y="259.5" width="10" height="46" rx="5" fill="none" stroke="#ededed" stroke-width="0.5"/>
<rect x="503.50" y="259.5" width="10" height="46" rx="5" fill="none" stroke="#ededed" stroke-width="0.5"/>
<rect x="514.10" y="259.5" width="10" height="46" rx="5" fill="none" stroke="#ededed" stroke-width="0.5"/>
<line x1="281.30" y1="273.05" x2="421.50" y2="273.05" stroke="#e2e2e2" stroke-width="0.9"/>
<line x1="427.40" y1="273.05" x2="574.30" y2="273.05" stroke="#e2e2e2" stroke-width="0.9"/>
<rect x="315.80" y="267.60" width="9.10" height="5.00" fill="#4a96d3"/>
<text x="320.35" y="266.75" font-size="3.56" text-anchor="middle" fill="#222" stroke="#222" stroke-width="0.10" textLength="6.42" lengthAdjust="spacingAndGlyphs">14.3</text>
<rect x="326.00" y="267.60" width="9.10" height="5.00" fill="#4a96d3"/>
<text x="330.55" y="266.75" font-size="3.56" text-anchor="middle" fill="#222" stroke="#222" stroke-width="0.10" textLength="6.42" lengthAdjust="spacingAndGlyphs">14.3</text>
<rect x="335.80" y="267.60" width="9.10" height="5.00" fill="#4a96d3"/>
<text x="340.35" y="266.75" font-size="3.56" text-anchor="middle" fill="#222" stroke="#222" stroke-width="0.10" textLength="6.42" lengthAdjust="spacingAndGlyphs">14.3</text>
<rect x="345.80" y="267.60" width="9.10" height="5.00" fill="#4a96d3"/>
<text x="350.35" y="266.75" font-size="3.56" text-anchor="middle" fill="#222" stroke="#222" stroke-width="0.10" textLength="6.42" lengthAdjust="spacingAndGlyphs">14.3</text>
<rect x="356.00" y="267.60" width="9.10" height="5.00" fill="#4a96d3"/>
<text x="360.55" y="266.75" font-size="3.56" text-anchor="middle" fill="#222" stroke="#222" stroke-width="0.10" textLength="6.42" lengthAdjust="spacingAndGlyphs">14.3</text>
<rect x="365.80" y="267.60" width="9.10" height="5.00" fill="#4a96d3"/>
<text x="370.35" y="266.75" font-size="3.56" text-anchor="middle" fill="#222" stroke="#222" stroke-width="0.10" textLength="6.42" lengthAdjust="spacingAndGlyphs">14.3</text>
<rect x="376.00" y="267.60" width="9.10" height="5.00" fill="#4a96d3"/>
<text x="380.55" y="266.75" font-size="3.56" text-anchor="middle" fill="#222" stroke="#222" stroke-width="0.10" textLength="6.42" lengthAdjust="spacingAndGlyphs">14.3</text>
<rect x="461.10" y="270.70" width="9.00" height="1.90" fill="#4a96d3"/>
<text x="465.60" y="269.85" font-size="3.56" text-anchor="middle" fill="#222" stroke="#222" stroke-width="0.10" textLength="4.59" lengthAdjust="spacingAndGlyphs">4.8</text>
<rect x="472.00" y="270.70" width="9.00" height="1.90" fill="#4a96d3"/>
<text x="476.50" y="269.85" font-size="3.56" text-anchor="middle" fill="#222" stroke="#222" stroke-width="0.10" textLength="4.59" lengthAdjust="spacingAndGlyphs">4.8</text>
<rect x="482.40" y="270.70" width="9.00" height="1.90" fill="#4a96d3"/>
<text x="486.90" y="269.85" font-size="3.56" text-anchor="middle" fill="#222" stroke="#222" stroke-width="0.10" textLength="4.59" lengthAdjust="spacingAndGlyphs">4.8</text>
<rect x="503.90" y="270.70" width="9.00" height="1.90" fill="#4a96d3"/>
<text x="508.40" y="269.85" font-size="3.56" text-anchor="middle" fill="#222" stroke="#222" stroke-width="0.10" textLength="4.59" lengthAdjust="spacingAndGlyphs">4.8</text>
<rect x="514.50" y="270.70" width="9.00" height="1.90" fill="#4a96d3"/>
<text x="519.00" y="269.85" font-size="3.56" text-anchor="middle" fill="#222" stroke="#222" stroke-width="0.10" textLength="4.59" lengthAdjust="spacingAndGlyphs">4.8</text>
<rect x="525.30" y="270.70" width="9.00" height="1.90" fill="#4a96d3"/>
<text x="529.80" y="269.85" font-size="3.56" text-anchor="middle" fill="#222" stroke="#222" stroke-width="0.10" textLength="4.59" lengthAdjust="spacingAndGlyphs">4.8</text>
<rect x="493.80" y="246.70" width="8.90" height="25.90" fill="#4a96d3"/>
<line x1="281.30" y1="301.85" x2="421.50" y2="301.85" stroke="#e2e2e2" stroke-width="0.9"/>
<line x1="427.40" y1="301.85" x2="574.30" y2="301.85" stroke="#e2e2e2" stroke-width="0.9"/>
<rect x="294.90" y="296.40" width="9.10" height="5.00" fill="#4a96d3"/>
<text x="299.45" y="295.55" font-size="3.56" text-anchor="middle" fill="#222" stroke="#222" stroke-width="0.10" textLength="6.42" lengthAdjust="spacingAndGlyphs">14.3</text>
<rect x="315.80" y="296.40" width="9.10" height="5.00" fill="#4a96d3"/>
<text x="320.35" y="295.55" font-size="3.56" text-anchor="middle" fill="#222" stroke="#222" stroke-width="0.10" textLength="6.42" lengthAdjust="spacingAndGlyphs">14.3</text>
<rect x="335.80" y="296.40" width="9.10" height="5.00" fill="#4a96d3"/>
<text x="340.35" y="295.55" font-size="3.56" text-anchor="middle" fill="#222" stroke="#222" stroke-width="0.10" textLength="6.42" lengthAdjust="spacingAndGlyphs">14.3</text>
<rect x="345.80" y="296.40" width="9.10" height="5.00" fill="#4a96d3"/>
<text x="350.35" y="295.55" font-size="3.56" text-anchor="middle" fill="#222" stroke="#222" stroke-width="0.10" textLength="6.42" lengthAdjust="spacingAndGlyphs">14.3</text>
<rect x="356.00" y="296.40" width="9.10" height="5.00" fill="#4a96d3"/>
<text x="360.55" y="295.55" font-size="3.56" text-anchor="middle" fill="#222" stroke="#222" stroke-width="0.10" textLength="6.42" lengthAdjust="spacingAndGlyphs">14.3</text>
<rect x="376.00" y="296.40" width="9.10" height="5.00" fill="#4a96d3"/>
<text x="380.55" y="295.55" font-size="3.56" text-anchor="middle" fill="#222" stroke="#222" stroke-width="0.10" textLength="6.42" lengthAdjust="spacingAndGlyphs">14.3</text>
<rect x="396.50" y="296.40" width="9.10" height="5.00" fill="#4a96d3"/>
<text x="401.05" y="295.55" font-size="3.56" text-anchor="middle" fill="#222" stroke="#222" stroke-width="0.10" textLength="6.42" lengthAdjust="spacingAndGlyphs">14.3</text>
<rect x="443.20" y="299.50" width="9.00" height="1.90" fill="#4a96d3"/>
<text x="447.70" y="298.65" font-size="3.56" text-anchor="middle" fill="#222" stroke="#222" stroke-width="0.10" textLength="4.59" lengthAdjust="spacingAndGlyphs">4.8</text>
<rect x="461.10" y="299.50" width="9.00" height="1.90" fill="#4a96d3"/>
<text x="465.60" y="298.65" font-size="3.56" text-anchor="middle" fill="#222" stroke="#222" stroke-width="0.10" textLength="4.59" lengthAdjust="spacingAndGlyphs">4.8</text>
<rect x="482.40" y="299.50" width="9.00" height="1.90" fill="#4a96d3"/>
<text x="486.90" y="298.65" font-size="3.56" text-anchor="middle" fill="#222" stroke="#222" stroke-width="0.10" textLength="4.59" lengthAdjust="spacingAndGlyphs">4.8</text>
<rect x="503.90" y="299.50" width="9.00" height="1.90" fill="#4a96d3"/>
<text x="508.40" y="298.65" font-size="3.56" text-anchor="middle" fill="#222" stroke="#222" stroke-width="0.10" textLength="4.59" lengthAdjust="spacingAndGlyphs">4.8</text>
<rect x="525.30" y="299.50" width="9.00" height="1.90" fill="#4a96d3"/>
<text x="529.80" y="298.65" font-size="3.56" text-anchor="middle" fill="#222" stroke="#222" stroke-width="0.10" textLength="4.59" lengthAdjust="spacingAndGlyphs">4.8</text>
<rect x="547.60" y="299.50" width="9.00" height="1.90" fill="#4a96d3"/>
<text x="552.10" y="298.65" font-size="3.56" text-anchor="middle" fill="#222" stroke="#222" stroke-width="0.10" textLength="4.59" lengthAdjust="spacingAndGlyphs">4.8</text>
<rect x="493.80" y="275.50" width="8.90" height="25.90" fill="#4a96d3"/>
<line x1="281.30" y1="330.35" x2="421.50" y2="330.35" stroke="#e2e2e2" stroke-width="0.9"/>
<line x1="427.40" y1="330.35" x2="574.30" y2="330.35" stroke="#e2e2e2" stroke-width="0.9"/>
<rect x="285.70" y="324.90" width="9.10" height="5.00" fill="#4a96d3"/>
<text x="290.25" y="324.05" font-size="3.56" text-anchor="middle" fill="#222" stroke="#222" stroke-width="0.10" textLength="6.42" lengthAdjust="spacingAndGlyphs">14.3</text>
<rect x="307.20" y="324.90" width="9.10" height="5.00" fill="#4a96d3"/>
<text x="311.75" y="324.05" font-size="3.56" text-anchor="middle" fill="#222" stroke="#222" stroke-width="0.10" textLength="6.42" lengthAdjust="spacingAndGlyphs">14.3</text>
<rect x="326.00" y="324.90" width="9.10" height="5.00" fill="#4a96d3"/>
<text x="330.55" y="324.05" font-size="3.56" text-anchor="middle" fill="#222" stroke="#222" stroke-width="0.10" textLength="6.42" lengthAdjust="spacingAndGlyphs">14.3</text>
<rect x="345.80" y="324.90" width="9.10" height="5.00" fill="#4a96d3"/>
<text x="350.35" y="324.05" font-size="3.56" text-anchor="middle" fill="#222" stroke="#222" stroke-width="0.10" textLength="6.42" lengthAdjust="spacingAndGlyphs">14.3</text>
<rect x="365.80" y="324.90" width="9.10" height="5.00" fill="#4a96d3"/>
<text x="370.35" y="324.05" font-size="3.56" text-anchor="middle" fill="#222" stroke="#222" stroke-width="0.10" textLength="6.42" lengthAdjust="spacingAndGlyphs">14.3</text>
<rect x="387.30" y="324.90" width="9.10" height="5.00" fill="#4a96d3"/>
<text x="391.85" y="324.05" font-size="3.56" text-anchor="middle" fill="#222" stroke="#222" stroke-width="0.10" textLength="6.42" lengthAdjust="spacingAndGlyphs">14.3</text>
<rect x="408.30" y="324.90" width="9.10" height="5.00" fill="#4a96d3"/>
<text x="412.85" y="324.05" font-size="3.56" text-anchor="middle" fill="#222" stroke="#222" stroke-width="0.10" textLength="6.42" lengthAdjust="spacingAndGlyphs">14.3</text>
<rect x="431.20" y="328.00" width="9.00" height="1.90" fill="#4a96d3"/>
<text x="435.70" y="327.15" font-size="3.56" text-anchor="middle" fill="#222" stroke="#222" stroke-width="0.10" textLength="4.59" lengthAdjust="spacingAndGlyphs">4.8</text>
<rect x="452.70" y="328.00" width="9.00" height="1.90" fill="#4a96d3"/>
<text x="457.20" y="327.15" font-size="3.56" text-anchor="middle" fill="#222" stroke="#222" stroke-width="0.10" textLength="4.59" lengthAdjust="spacingAndGlyphs">4.8</text>
<rect x="472.00" y="328.00" width="9.00" height="1.90" fill="#4a96d3"/>
<text x="476.50" y="327.15" font-size="3.56" text-anchor="middle" fill="#222" stroke="#222" stroke-width="0.10" textLength="4.59" lengthAdjust="spacingAndGlyphs">4.8</text>
<rect x="514.50" y="328.00" width="9.00" height="1.90" fill="#4a96d3"/>
<text x="519.00" y="327.15" font-size="3.56" text-anchor="middle" fill="#222" stroke="#222" stroke-width="0.10" textLength="4.59" lengthAdjust="spacingAndGlyphs">4.8</text>
<rect x="536.80" y="328.00" width="9.00" height="1.90" fill="#4a96d3"/>
<text x="541.30" y="327.15" font-size="3.56" text-anchor="middle" fill="#222" stroke="#222" stroke-width="0.10" textLength="4.59" lengthAdjust="spacingAndGlyphs">4.8</text>
<rect x="557.80" y="328.00" width="9.00" height="1.90" fill="#4a96d3"/>
<text x="562.30" y="327.15" font-size="3.56" text-anchor="middle" fill="#222" stroke="#222" stroke-width="0.10" textLength="4.59" lengthAdjust="spacingAndGlyphs">4.8</text>
<rect x="493.80" y="304.00" width="8.90" height="25.90" fill="#4a96d3"/>
<text x="498.25" y="245.40" font-size="3.56" text-anchor="middle" fill="#222" stroke="#222" stroke-width="0.10" textLength="6.42" lengthAdjust="spacingAndGlyphs">71.4</text>
<text x="290.25" y="335.40" font-size="4.09" text-anchor="middle" fill="#222" stroke="#222" stroke-width="0.11" textLength="6.51" lengthAdjust="spacingAndGlyphs" transform="rotate(-15 290.25 335.40)">752</text>
<text x="299.45" y="335.40" font-size="4.09" text-anchor="middle" fill="#222" stroke="#222" stroke-width="0.11" textLength="6.51" lengthAdjust="spacingAndGlyphs" transform="rotate(-15 299.45 335.40)">798</text>
<text x="311.75" y="335.40" font-size="4.09" text-anchor="middle" fill="#222" stroke="#222" stroke-width="0.11" textLength="6.51" lengthAdjust="spacingAndGlyphs" transform="rotate(-15 311.75 335.40)">849</text>
<text x="320.35" y="335.40" font-size="4.09" text-anchor="middle" fill="#222" stroke="#222" stroke-width="0.11" textLength="6.51" lengthAdjust="spacingAndGlyphs" transform="rotate(-15 320.35 335.40)">897</text>
<text x="330.55" y="335.40" font-size="4.09" text-anchor="middle" fill="#222" stroke="#222" stroke-width="0.11" textLength="6.51" lengthAdjust="spacingAndGlyphs" transform="rotate(-15 330.55 335.40)">950</text>
<text x="340.35" y="335.40" font-size="4.09" text-anchor="middle" fill="#222" stroke="#222" stroke-width="0.11" textLength="6.51" lengthAdjust="spacingAndGlyphs" transform="rotate(-15 340.35 335.40)">949</text>
<text x="350.35" y="335.40" font-size="4.09" text-anchor="middle" fill="#222" stroke="#222" stroke-width="0.11" textLength="8.68" lengthAdjust="spacingAndGlyphs" transform="rotate(-15 350.35 335.40)">1000</text>
<text x="360.55" y="335.40" font-size="4.09" text-anchor="middle" fill="#222" stroke="#222" stroke-width="0.11" textLength="8.68" lengthAdjust="spacingAndGlyphs" transform="rotate(-15 360.55 335.40)">1060</text>
<text x="370.35" y="335.40" font-size="4.09" text-anchor="middle" fill="#222" stroke="#222" stroke-width="0.11" textLength="8.39" lengthAdjust="spacingAndGlyphs" transform="rotate(-15 370.35 335.40)">1123</text>
<text x="380.55" y="335.40" font-size="4.09" text-anchor="middle" fill="#222" stroke="#222" stroke-width="0.11" textLength="8.39" lengthAdjust="spacingAndGlyphs" transform="rotate(-15 380.55 335.40)">1176</text>
<text x="391.85" y="335.40" font-size="4.09" text-anchor="middle" fill="#222" stroke="#222" stroke-width="0.11" textLength="8.68" lengthAdjust="spacingAndGlyphs" transform="rotate(-15 391.85 335.40)">1244</text>
<text x="401.05" y="335.40" font-size="4.09" text-anchor="middle" fill="#222" stroke="#222" stroke-width="0.11" textLength="8.68" lengthAdjust="spacingAndGlyphs" transform="rotate(-15 401.05 335.40)">1306</text>
<text x="412.85" y="335.40" font-size="4.09" text-anchor="middle" fill="#222" stroke="#222" stroke-width="0.11" textLength="8.68" lengthAdjust="spacingAndGlyphs" transform="rotate(-15 412.85 335.40)">1410</text>
<text x="435.70" y="335.40" font-size="4.09" text-anchor="middle" fill="#222" stroke="#222" stroke-width="0.11" textLength="6.51" lengthAdjust="spacingAndGlyphs" transform="rotate(-15 435.70 335.40)">752</text>
<text x="447.70" y="335.40" font-size="4.09" text-anchor="middle" fill="#222" stroke="#222" stroke-width="0.11" textLength="6.51" lengthAdjust="spacingAndGlyphs" transform="rotate(-15 447.70 335.40)">798</text>
<text x="457.20" y="335.40" font-size="4.09" text-anchor="middle" fill="#222" stroke="#222" stroke-width="0.11" textLength="6.51" lengthAdjust="spacingAndGlyphs" transform="rotate(-15 457.20 335.40)">849</text>
<text x="465.60" y="335.40" font-size="4.09" text-anchor="middle" fill="#222" stroke="#222" stroke-width="0.11" textLength="6.51" lengthAdjust="spacingAndGlyphs" transform="rotate(-15 465.60 335.40)">897</text>
<text x="476.50" y="335.40" font-size="4.09" text-anchor="middle" fill="#222" stroke="#222" stroke-width="0.11" textLength="6.51" lengthAdjust="spacingAndGlyphs" transform="rotate(-15 476.50 335.40)">950</text>
<text x="486.90" y="335.40" font-size="4.09" text-anchor="middle" fill="#222" stroke="#222" stroke-width="0.11" textLength="6.51" lengthAdjust="spacingAndGlyphs" transform="rotate(-15 486.90 335.40)">949</text>
<text x="498.30" y="335.40" font-size="4.09" text-anchor="middle" fill="#222" stroke="#222" stroke-width="0.11" textLength="8.68" lengthAdjust="spacingAndGlyphs" transform="rotate(-15 498.30 335.40)">1000</text>
<text x="508.40" y="335.40" font-size="4.09" text-anchor="middle" fill="#222" stroke="#222" stroke-width="0.11" textLength="8.68" lengthAdjust="spacingAndGlyphs" transform="rotate(-15 508.40 335.40)">1060</text>
<text x="519.00" y="335.40" font-size="4.09" text-anchor="middle" fill="#222" stroke="#222" stroke-width="0.11" textLength="8.39" lengthAdjust="spacingAndGlyphs" transform="rotate(-15 519.00 335.40)">1123</text>
<text x="529.80" y="335.40" font-size="4.09" text-anchor="middle" fill="#222" stroke="#222" stroke-width="0.11" textLength="8.39" lengthAdjust="spacingAndGlyphs" transform="rotate(-15 529.80 335.40)">1176</text>
<text x="541.30" y="335.40" font-size="4.09" text-anchor="middle" fill="#222" stroke="#222" stroke-width="0.11" textLength="8.68" lengthAdjust="spacingAndGlyphs" transform="rotate(-15 541.30 335.40)">1244</text>
<text x="552.10" y="335.40" font-size="4.09" text-anchor="middle" fill="#222" stroke="#222" stroke-width="0.11" textLength="8.68" lengthAdjust="spacingAndGlyphs" transform="rotate(-15 552.10 335.40)">1306</text>
<text x="562.30" y="335.40" font-size="4.09" text-anchor="middle" fill="#222" stroke="#222" stroke-width="0.11" textLength="8.68" lengthAdjust="spacingAndGlyphs" transform="rotate(-15 562.30 335.40)">1410</text>
<text x="350.50" y="342.80" font-size="4.73" text-anchor="middle" fill="#222" stroke="#222" stroke-width="0.13" textLength="29.63" lengthAdjust="spacingAndGlyphs">Frequency (Hz)</text>
<text x="498.00" y="342.80" font-size="4.73" text-anchor="middle" fill="#222" stroke="#222" stroke-width="0.13" textLength="29.63" lengthAdjust="spacingAndGlyphs">Frequency (Hz)</text>
<text x="240.30" y="364.40" font-size="10.70" stroke="#111" stroke-width="0.30">Experiment 8</text>
<text x="250.50" y="377.00" font-size="9.28" font-weight="bold" textLength="25.80" lengthAdjust="spacingAndGlyphs">8a, 8b</text>
<text x="281.90" y="375.00" font-size="6.27" font-weight="bold" stroke="#111" stroke-width="0.10" textLength="36.42" lengthAdjust="spacingAndGlyphs">Equiprobable</text>
<text x="281.90" y="381.70" font-size="4.73" stroke="#111" stroke-width="0.13" textLength="37.80" lengthAdjust="spacingAndGlyphs">First Half (Exp 8a)</text>
<text x="281.90" y="387.80" font-size="4.73" stroke="#111" stroke-width="0.13" textLength="44.20" lengthAdjust="spacingAndGlyphs">Second Half (Exp 8b)</text>
<text x="444.90" y="372.90" font-size="6.27" font-weight="bold" stroke="#111" stroke-width="0.10" textLength="25.97" lengthAdjust="spacingAndGlyphs">Unimodal</text>
<text x="444.90" y="379.70" font-size="4.73" stroke="#111" stroke-width="0.13" textLength="37.90" lengthAdjust="spacingAndGlyphs">First Half (Exp 8b)</text>
<text x="444.90" y="385.80" font-size="4.73" stroke="#111" stroke-width="0.13" textLength="46.00" lengthAdjust="spacingAndGlyphs">Second Half  (Exp 8a)</text>
<line x1="272.30" y1="406.10" x2="510.60" y2="406.10" stroke="#e2e2e2" stroke-width="0.9"/>
<rect x="282.00" y="403.70" width="9.00" height="2.00" fill="#4a96d3"/>
<text x="286.50" y="400.90" font-size="3.46" text-anchor="middle" fill="#222" stroke="#222" stroke-width="0.10" textLength="1.78" lengthAdjust="spacingAndGlyphs">5</text>
<rect x="291.87" y="403.70" width="9.00" height="2.00" fill="#4a96d3"/>
<text x="296.37" y="400.90" font-size="3.46" text-anchor="middle" fill="#222" stroke="#222" stroke-width="0.10" textLength="1.78" lengthAdjust="spacingAndGlyphs">5</text>
<rect x="301.74" y="403.70" width="9.00" height="2.00" fill="#4a96d3"/>
<text x="306.24" y="400.90" font-size="3.46" text-anchor="middle" fill="#222" stroke="#222" stroke-width="0.10" textLength="1.78" lengthAdjust="spacingAndGlyphs">5</text>
<rect x="311.61" y="403.70" width="9.00" height="2.00" fill="#4a96d3"/>
<text x="316.11" y="400.90" font-size="3.46" text-anchor="middle" fill="#222" stroke="#222" stroke-width="0.10" textLength="1.78" lengthAdjust="spacingAndGlyphs">5</text>
<rect x="321.48" y="403.70" width="9.00" height="2.00" fill="#4a96d3"/>
<text x="325.98" y="400.90" font-size="3.46" text-anchor="middle" fill="#222" stroke="#222" stroke-width="0.10" textLength="1.78" lengthAdjust="spacingAndGlyphs">5</text>
<rect x="331.35" y="403.70" width="9.00" height="2.00" fill="#4a96d3"/>
<text x="335.85" y="400.90" font-size="3.46" text-anchor="middle" fill="#222" stroke="#222" stroke-width="0.10" textLength="1.78" lengthAdjust="spacingAndGlyphs">5</text>
<rect x="341.22" y="403.70" width="9.00" height="2.00" fill="#4a96d3"/>
<text x="345.72" y="400.90" font-size="3.46" text-anchor="middle" fill="#222" stroke="#222" stroke-width="0.10" textLength="1.78" lengthAdjust="spacingAndGlyphs">5</text>
<rect x="351.09" y="403.70" width="9.00" height="2.00" fill="#4a96d3"/>
<text x="355.59" y="400.90" font-size="3.46" text-anchor="middle" fill="#222" stroke="#222" stroke-width="0.10" textLength="1.78" lengthAdjust="spacingAndGlyphs">5</text>
<rect x="360.96" y="403.70" width="9.00" height="2.00" fill="#4a96d3"/>
<text x="365.46" y="400.90" font-size="3.46" text-anchor="middle" fill="#222" stroke="#222" stroke-width="0.10" textLength="1.78" lengthAdjust="spacingAndGlyphs">5</text>
<rect x="370.83" y="403.70" width="9.00" height="2.00" fill="#4a96d3"/>
<text x="375.33" y="400.90" font-size="3.46" text-anchor="middle" fill="#222" stroke="#222" stroke-width="0.10" textLength="1.78" lengthAdjust="spacingAndGlyphs">5</text>
<rect x="380.70" y="403.70" width="9.00" height="2.00" fill="#4a96d3"/>
<text x="385.20" y="400.90" font-size="3.46" text-anchor="middle" fill="#222" stroke="#222" stroke-width="0.10" textLength="1.78" lengthAdjust="spacingAndGlyphs">5</text>
<rect x="390.57" y="403.70" width="9.00" height="2.00" fill="#4a96d3"/>
<text x="395.07" y="400.90" font-size="3.46" text-anchor="middle" fill="#222" stroke="#222" stroke-width="0.10" textLength="1.78" lengthAdjust="spacingAndGlyphs">5</text>
<rect x="400.44" y="403.70" width="9.00" height="2.00" fill="#4a96d3"/>
<text x="404.94" y="400.90" font-size="3.46" text-anchor="middle" fill="#222" stroke="#222" stroke-width="0.10" textLength="1.78" lengthAdjust="spacingAndGlyphs">5</text>
<rect x="410.31" y="403.70" width="9.00" height="2.00" fill="#4a96d3"/>
<text x="414.81" y="400.90" font-size="3.46" text-anchor="middle" fill="#222" stroke="#222" stroke-width="0.10" textLength="1.78" lengthAdjust="spacingAndGlyphs">5</text>
<rect x="420.18" y="403.70" width="9.00" height="2.00" fill="#4a96d3"/>
<text x="424.68" y="400.90" font-size="3.46" text-anchor="middle" fill="#222" stroke="#222" stroke-width="0.10" textLength="1.78" lengthAdjust="spacingAndGlyphs">5</text>
<rect x="430.05" y="403.70" width="9.00" height="2.00" fill="#4a96d3"/>
<text x="434.55" y="400.90" font-size="3.46" text-anchor="middle" fill="#222" stroke="#222" stroke-width="0.10" textLength="1.78" lengthAdjust="spacingAndGlyphs">5</text>
<rect x="439.92" y="403.70" width="9.00" height="2.00" fill="#4a96d3"/>
<text x="444.42" y="400.90" font-size="3.46" text-anchor="middle" fill="#222" stroke="#222" stroke-width="0.10" textLength="1.78" lengthAdjust="spacingAndGlyphs">5</text>
<rect x="449.79" y="403.70" width="9.00" height="2.00" fill="#4a96d3"/>
<text x="454.29" y="400.90" font-size="3.46" text-anchor="middle" fill="#222" stroke="#222" stroke-width="0.10" textLength="1.78" lengthAdjust="spacingAndGlyphs">5</text>
<rect x="459.66" y="403.70" width="9.00" height="2.00" fill="#4a96d3"/>
<text x="464.16" y="400.90" font-size="3.46" text-anchor="middle" fill="#222" stroke="#222" stroke-width="0.10" textLength="1.78" lengthAdjust="spacingAndGlyphs">5</text>
<rect x="469.53" y="403.70" width="9.00" height="2.00" fill="#4a96d3"/>
<text x="474.03" y="400.90" font-size="3.46" text-anchor="middle" fill="#222" stroke="#222" stroke-width="0.10" textLength="1.78" lengthAdjust="spacingAndGlyphs">5</text>
<text x="286.50" y="410.80" font-size="3.68" text-anchor="middle" fill="#222" stroke="#222" stroke-width="0.10" textLength="5.84" lengthAdjust="spacingAndGlyphs" transform="rotate(-18 286.50 410.80)">850</text>
<text x="296.37" y="410.80" font-size="3.68" text-anchor="middle" fill="#222" stroke="#222" stroke-width="0.10" textLength="5.84" lengthAdjust="spacingAndGlyphs" transform="rotate(-18 296.37 410.80)">867</text>
<text x="306.24" y="410.80" font-size="3.68" text-anchor="middle" fill="#222" stroke="#222" stroke-width="0.10" textLength="5.84" lengthAdjust="spacingAndGlyphs" transform="rotate(-18 306.24 410.80)">884</text>
<text x="316.11" y="410.80" font-size="3.68" text-anchor="middle" fill="#222" stroke="#222" stroke-width="0.10" textLength="5.84" lengthAdjust="spacingAndGlyphs" transform="rotate(-18 316.11 410.80)">901</text>
<text x="325.98" y="410.80" font-size="3.68" text-anchor="middle" fill="#222" stroke="#222" stroke-width="0.10" textLength="5.84" lengthAdjust="spacingAndGlyphs" transform="rotate(-18 325.98 410.80)">918</text>
<text x="335.85" y="410.80" font-size="3.68" text-anchor="middle" fill="#222" stroke="#222" stroke-width="0.10" textLength="5.84" lengthAdjust="spacingAndGlyphs" transform="rotate(-18 335.85 410.80)">935</text>
<text x="345.72" y="410.80" font-size="3.68" text-anchor="middle" fill="#222" stroke="#222" stroke-width="0.10" textLength="5.84" lengthAdjust="spacingAndGlyphs" transform="rotate(-18 345.72 410.80)">952</text>
<text x="355.59" y="410.80" font-size="3.68" text-anchor="middle" fill="#222" stroke="#222" stroke-width="0.10" textLength="5.84" lengthAdjust="spacingAndGlyphs" transform="rotate(-18 355.59 410.80)">969</text>
<text x="365.46" y="410.80" font-size="3.68" text-anchor="middle" fill="#222" stroke="#222" stroke-width="0.10" textLength="5.84" lengthAdjust="spacingAndGlyphs" transform="rotate(-18 365.46 410.80)">986</text>
<text x="375.33" y="410.80" font-size="3.68" text-anchor="middle" fill="#222" stroke="#222" stroke-width="0.10" textLength="7.79" lengthAdjust="spacingAndGlyphs" transform="rotate(-18 375.33 410.80)">1003</text>
<text x="385.20" y="410.80" font-size="3.68" text-anchor="middle" fill="#222" stroke="#222" stroke-width="0.10" textLength="7.79" lengthAdjust="spacingAndGlyphs" transform="rotate(-18 385.20 410.80)">1020</text>
<text x="395.07" y="410.80" font-size="3.68" text-anchor="middle" fill="#222" stroke="#222" stroke-width="0.10" textLength="7.79" lengthAdjust="spacingAndGlyphs" transform="rotate(-18 395.07 410.80)">1037</text>
<text x="404.94" y="410.80" font-size="3.68" text-anchor="middle" fill="#222" stroke="#222" stroke-width="0.10" textLength="7.79" lengthAdjust="spacingAndGlyphs" transform="rotate(-18 404.94 410.80)">1054</text>
<text x="414.81" y="410.80" font-size="3.68" text-anchor="middle" fill="#222" stroke="#222" stroke-width="0.10" textLength="7.79" lengthAdjust="spacingAndGlyphs" transform="rotate(-18 414.81 410.80)">1071</text>
<text x="424.68" y="410.80" font-size="3.68" text-anchor="middle" fill="#222" stroke="#222" stroke-width="0.10" textLength="7.79" lengthAdjust="spacingAndGlyphs" transform="rotate(-18 424.68 410.80)">1088</text>
<text x="434.55" y="410.80" font-size="3.68" text-anchor="middle" fill="#222" stroke="#222" stroke-width="0.10" textLength="7.53" lengthAdjust="spacingAndGlyphs" transform="rotate(-18 434.55 410.80)">1105</text>
<text x="444.42" y="410.80" font-size="3.68" text-anchor="middle" fill="#222" stroke="#222" stroke-width="0.10" textLength="7.53" lengthAdjust="spacingAndGlyphs" transform="rotate(-18 444.42 410.80)">1122</text>
<text x="454.29" y="410.80" font-size="3.68" text-anchor="middle" fill="#222" stroke="#222" stroke-width="0.10" textLength="7.53" lengthAdjust="spacingAndGlyphs" transform="rotate(-18 454.29 410.80)">1139</text>
<text x="464.16" y="410.80" font-size="3.68" text-anchor="middle" fill="#222" stroke="#222" stroke-width="0.10" textLength="7.53" lengthAdjust="spacingAndGlyphs" transform="rotate(-18 464.16 410.80)">1156</text>
<text x="474.03" y="410.80" font-size="3.68" text-anchor="middle" fill="#222" stroke="#222" stroke-width="0.10" textLength="7.53" lengthAdjust="spacingAndGlyphs" transform="rotate(-18 474.03 410.80)">1173</text>
<rect x="496.70" y="369.30" width="8.70" height="36.20" fill="#4a96d3"/>
<text x="501.05" y="410.80" font-size="3.68" text-anchor="middle" fill="#222" stroke="#222" stroke-width="0.10" textLength="7.79" lengthAdjust="spacingAndGlyphs" transform="rotate(-18 501.05 410.80)">1000</text>
<text x="377.70" y="418.00" font-size="4.40" text-anchor="middle" fill="#222" stroke="#222" stroke-width="0.12" textLength="27.56" lengthAdjust="spacingAndGlyphs">Frequency (Hz)</text>
</svg>
</body></html>
